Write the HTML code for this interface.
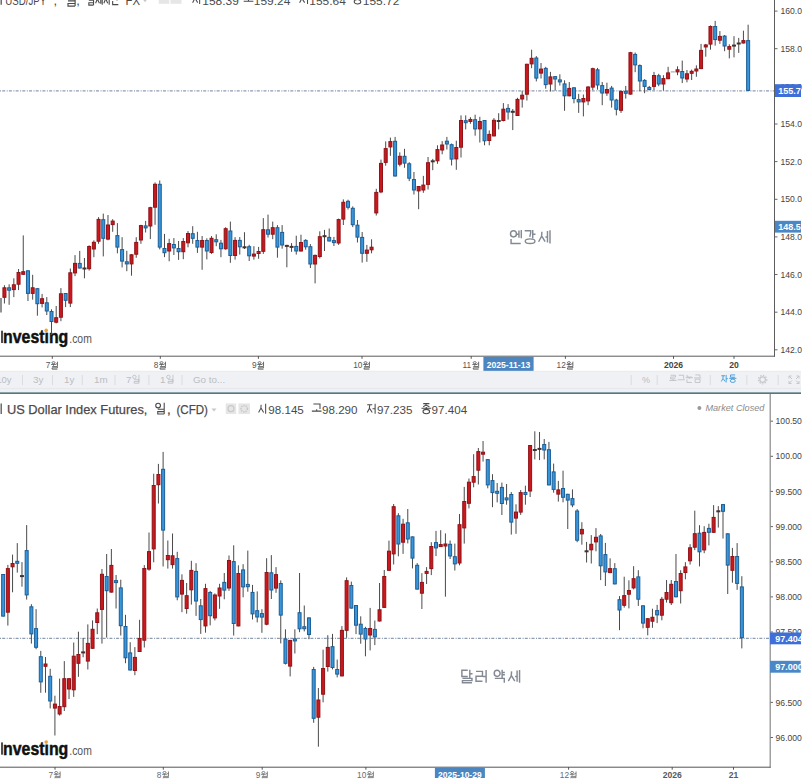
<!DOCTYPE html>
<html><head><meta charset="utf-8"><style>
html,body{margin:0;padding:0;background:#fff;width:808px;height:782px;overflow:hidden;font-family:"Liberation Sans",sans-serif;}
svg{display:block}
</style></head><body>
<svg width="808" height="782" viewBox="0 0 808 782">
<rect width="808" height="782" fill="#fff"/>
<g transform="translate(0,0.2)">
<line x1="1.2" y1="-6" x2="1.2" y2="4.5" stroke="#555" stroke-width="1.3"/>
<text x="5.2" y="4.4" font-family='"Liberation Sans", sans-serif' font-size="12.8" fill="#4a4a4a" font-weight="normal" text-anchor="start"  textLength="41" lengthAdjust="spacingAndGlyphs">USD/JPY</text>
<text x="53.5" y="4.4" font-family='"Liberation Sans", sans-serif' font-size="12.8" fill="#4a4a4a" font-weight="normal" text-anchor="start" >,</text>
<path d="M75.12,-6.6 L75.12,5.9 M68,0.65 L75.12,0.65 L75.12,3.28 L68,3.28 L68,5.9 L75.12,5.9 M65.75,-3.41 a2.63,2.56 0 1,0 5.25,0 a2.63,2.56 0 1,0 -5.25,0" fill="none" stroke="#4a4a4a" stroke-width="1.15" stroke-linecap="butt" stroke-linejoin="miter"/>
<text x="76.2" y="4.4" font-family='"Liberation Sans", sans-serif' font-size="12.8" fill="#4a4a4a" font-weight="normal" text-anchor="start" >,</text>
<path d="M93.54,-6.6 L93.54,4.9 M88.82,0.07 L93.54,0.07 L93.54,2.49 L88.82,2.49 L88.82,4.9 L93.54,4.9 M87.33,-3.67 a1.74,2.36 0 1,0 3.48,0 a1.74,2.36 0 1,0 -3.48,0 M95.61,-4.99 L99.42,-4.99 M97.51,-4.99 L97.21,-0.96 L95.61,3.06 M97.51,-0.96 L99.42,3.06 M100.77,-5.61 L100.77,3.59 M99.58,-0.85 L100.77,-0.85 M102.23,-6.14 L102.23,4.44 M105.79,-4.99 L105.6,-1.37 L103.89,3.06 M105.79,-1.37 L107.7,3.06 M109.19,-6.14 L109.19,4.44 M112.33,-5.91 L115.81,-5.91 L115.81,-4.14 L115.29,-0.85 M117.01,-6.37 L117.01,0.3 M117.01,-3.03 L118.63,-3.03 M112.66,0.76 L112.66,4.44 L118.3,4.44" fill="none" stroke="#4a4a4a" stroke-width="1.1" stroke-linecap="butt" stroke-linejoin="miter"/>
<text x="125.5" y="4.4" font-family='"Liberation Sans", sans-serif' font-size="12.8" fill="#4a4a4a" font-weight="normal" text-anchor="start"  textLength="14.5" lengthAdjust="spacingAndGlyphs">FX</text>
<path d="M142.5 -1 l5 0 l-2.5 3 z" fill="#c8c8c8"/>
<rect x="158.8" y="-7" width="10.5" height="10.6" fill="#e6e6e6"/>
<rect x="170.5" y="-7" width="11" height="10.6" fill="#e6e6e6"/>
<path d="M195.13,-5.26 L194.88,-1.79 L192.6,2.44 M195.13,-1.79 L197.66,2.44 M199.64,-6.36 L199.64,3.76" fill="none" stroke="#4a4a4a" stroke-width="1.05" stroke-linecap="butt" stroke-linejoin="miter"/>
<text x="202.3" y="4.4" font-family='"Liberation Sans", sans-serif' font-size="11.6" fill="#4a4a4a" font-weight="normal" text-anchor="start"  textLength="36.5" lengthAdjust="spacingAndGlyphs">158.39</text>
<path d="M245.2,-5.92 L251.8,-5.92 L251.8,-1.08 M248.5,-0.86 L248.5,1.12 M243.66,1.12 L253.34,1.12" fill="none" stroke="#4a4a4a" stroke-width="1.05" stroke-linecap="butt" stroke-linejoin="miter"/>
<text x="253.8" y="4.4" font-family='"Liberation Sans", sans-serif' font-size="11.6" fill="#4a4a4a" font-weight="normal" text-anchor="start"  textLength="36.5" lengthAdjust="spacingAndGlyphs">159.24</text>
<path d="M299.6,-5.26 L304.66,-5.26 M302.13,-5.26 L301.73,-1.41 L299.6,2.44 M302.13,-1.41 L304.66,2.44 M307.52,-6.36 L307.52,3.76 M304.88,-1.3 L307.52,-1.3" fill="none" stroke="#4a4a4a" stroke-width="1.05" stroke-linecap="butt" stroke-linejoin="miter"/>
<text x="309.3" y="4.4" font-family='"Liberation Sans", sans-serif' font-size="11.6" fill="#4a4a4a" font-weight="normal" text-anchor="start"  textLength="36.5" lengthAdjust="spacingAndGlyphs">155.64</text>
<path d="M354.42,-6.36 L360.58,-6.36 M357.5,-6.36 L357.01,-4.82 L354.42,-3.28 M357.5,-4.82 L360.58,-3.28 M357.5,-3.06 L357.5,-1.74 M352.66,-1.74 L362.34,-1.74 M354.2,1.56 a3.3,2.2 0 1,0 6.6,0 a3.3,2.2 0 1,0 -6.6,0" fill="none" stroke="#4a4a4a" stroke-width="1.05" stroke-linecap="butt" stroke-linejoin="miter"/>
<text x="362.8" y="4.4" font-family='"Liberation Sans", sans-serif' font-size="11.6" fill="#4a4a4a" font-weight="normal" text-anchor="start"  textLength="36.5" lengthAdjust="spacingAndGlyphs">155.72</text>
</g>
<text x="703" y="-0.6" font-family='"Liberation Sans", sans-serif' font-size="9.6" fill="#aaa" font-weight="normal" text-anchor="start" font-style="italic" textLength="62" lengthAdjust="spacingAndGlyphs">Market Closed</text>
<line x1="0" y1="90.8" x2="774" y2="90.8" stroke="#8e9cb2" stroke-width="1.2" stroke-dasharray="1 1.2 3 1.5"/>
<path d="M518.95,230.5 L518.95,237.66 M517.04,234.2 L518.95,234.2 M521.3,230.08 L521.3,238.32 M511.07,238.89 L511.07,243.43 L520.73,243.43 M510.5,233.78 a2.98,3.12 0 1,0 5.96,0 a2.98,3.12 0 1,0 -5.96,0 M524.7,230.65 L530.67,230.65 L530.67,232.84 L529.77,236.9 M532.73,230.08 L532.73,238.32 M532.73,234.2 L535.5,234.2 M525.27,241.16 a4.83,2.27 0 1,0 9.66,0 a4.83,2.27 0 1,0 -9.66,0 M541.89,231.79 L541.56,236.26 L538.62,241.73 M541.89,236.26 L545.15,241.73 M547.48,231.02 L547.48,242.39 M545.44,236.9 L547.48,236.9 M549.98,230.37 L549.98,243.43" fill="none" stroke="#848a93" stroke-width="1.45" stroke-linecap="butt" stroke-linejoin="miter"/>
<rect x="1.2" y="330.7" width="1.6" height="12.3" fill="#222"/>
<text x="3.0999999999999996" y="343" font-family='"Liberation Sans", sans-serif' font-size="18.5" fill="#111" font-weight="bold" text-anchor="start" stroke="#111" stroke-width="0.5" textLength="65.2" lengthAdjust="spacingAndGlyphs">nvesting</text>
<rect x="44.2" y="328.4" width="5.6" height="3.9" fill="#fff"/>
<circle cx="46.2" cy="330.4" r="1.8" fill="#f0a531"/>
<text x="69.3" y="343" font-family='"Liberation Sans", sans-serif' font-size="12.5" fill="#555" font-weight="normal" text-anchor="start"  textLength="22.5" lengthAdjust="spacingAndGlyphs">.com</text>
<line x1="1.00" y1="298.00" x2="1.00" y2="312.50" stroke="#4a4a4a" stroke-width="1.2"/>
<line x1="4.43" y1="285.20" x2="4.43" y2="303.50" stroke="#4a4a4a" stroke-width="1"/>
<rect x="2.93" y="287.80" width="3" height="9.50" fill="#c9191e" stroke="#8e1216" stroke-width="1"/>
<line x1="9.13" y1="284.30" x2="9.13" y2="304.80" stroke="#4a4a4a" stroke-width="1"/>
<rect x="7.63" y="287.80" width="3" height="2.40" fill="#3796dc" stroke="#1c5d94" stroke-width="1"/>
<line x1="13.84" y1="278.30" x2="13.84" y2="297.10" stroke="#4a4a4a" stroke-width="1"/>
<rect x="12.34" y="284.80" width="3" height="4.80" fill="#c9191e" stroke="#8e1216" stroke-width="1"/>
<line x1="18.55" y1="269.00" x2="18.55" y2="290.10" stroke="#4a4a4a" stroke-width="1"/>
<rect x="17.05" y="272.50" width="3" height="11.70" fill="#c9191e" stroke="#8e1216" stroke-width="1"/>
<line x1="23.25" y1="235.40" x2="23.25" y2="274.80" stroke="#4a4a4a" stroke-width="1"/>
<rect x="21.75" y="271.70" width="3" height="2.60" fill="#c9191e" stroke="#8e1216" stroke-width="1"/>
<line x1="27.96" y1="270.30" x2="27.96" y2="301.00" stroke="#4a4a4a" stroke-width="1"/>
<rect x="26.46" y="270.80" width="3" height="22.60" fill="#3796dc" stroke="#1c5d94" stroke-width="1"/>
<line x1="32.67" y1="274.80" x2="32.67" y2="299.70" stroke="#4a4a4a" stroke-width="1"/>
<rect x="31.17" y="287.80" width="3" height="5.60" fill="#c9191e" stroke="#8e1216" stroke-width="1"/>
<line x1="37.38" y1="288.20" x2="37.38" y2="315.70" stroke="#4a4a4a" stroke-width="1"/>
<rect x="35.88" y="288.70" width="3" height="15.00" fill="#3796dc" stroke="#1c5d94" stroke-width="1"/>
<line x1="42.08" y1="293.90" x2="42.08" y2="307.40" stroke="#4a4a4a" stroke-width="1"/>
<rect x="40.58" y="298.70" width="3" height="4.70" fill="#c9191e" stroke="#8e1216" stroke-width="1"/>
<line x1="46.79" y1="297.10" x2="46.79" y2="315.00" stroke="#4a4a4a" stroke-width="1"/>
<rect x="45.29" y="302.80" width="3" height="8.20" fill="#3796dc" stroke="#1c5d94" stroke-width="1"/>
<line x1="51.50" y1="309.30" x2="51.50" y2="335.00" stroke="#4a4a4a" stroke-width="1"/>
<rect x="50.00" y="311.50" width="3" height="10.00" fill="#3796dc" stroke="#1c5d94" stroke-width="1"/>
<line x1="56.20" y1="306.00" x2="56.20" y2="323.40" stroke="#4a4a4a" stroke-width="1"/>
<rect x="54.70" y="317.70" width="3" height="4.50" fill="#c9191e" stroke="#8e1216" stroke-width="1"/>
<line x1="60.91" y1="288.10" x2="60.91" y2="321.20" stroke="#4a4a4a" stroke-width="1"/>
<rect x="59.41" y="293.80" width="3" height="23.40" fill="#c9191e" stroke="#8e1216" stroke-width="1"/>
<line x1="65.62" y1="293.00" x2="65.62" y2="307.10" stroke="#4a4a4a" stroke-width="1"/>
<rect x="64.12" y="293.50" width="3" height="6.80" fill="#3796dc" stroke="#1c5d94" stroke-width="1"/>
<line x1="70.33" y1="268.50" x2="70.33" y2="307.10" stroke="#4a4a4a" stroke-width="1"/>
<rect x="68.83" y="272.80" width="3" height="30.30" fill="#c9191e" stroke="#8e1216" stroke-width="1"/>
<line x1="75.03" y1="255.10" x2="75.03" y2="276.20" stroke="#4a4a4a" stroke-width="1"/>
<rect x="73.53" y="263.40" width="3" height="9.50" fill="#c9191e" stroke="#8e1216" stroke-width="1"/>
<line x1="79.74" y1="250.90" x2="79.74" y2="268.50" stroke="#4a4a4a" stroke-width="1"/>
<rect x="78.24" y="263.40" width="3" height="4.60" fill="#3796dc" stroke="#1c5d94" stroke-width="1"/>
<line x1="84.45" y1="258.00" x2="84.45" y2="278.30" stroke="#4a4a4a" stroke-width="1"/>
<rect x="82.45" y="267.50" width="4" height="2" fill="#43302f"/>
<line x1="89.15" y1="245.30" x2="89.15" y2="270.60" stroke="#4a4a4a" stroke-width="1"/>
<rect x="87.65" y="246.50" width="3" height="22.20" fill="#c9191e" stroke="#8e1216" stroke-width="1"/>
<line x1="93.86" y1="240.40" x2="93.86" y2="257.20" stroke="#4a4a4a" stroke-width="1"/>
<rect x="92.36" y="242.30" width="3" height="6.70" fill="#c9191e" stroke="#8e1216" stroke-width="1"/>
<line x1="98.57" y1="217.10" x2="98.57" y2="243.80" stroke="#4a4a4a" stroke-width="1"/>
<rect x="97.07" y="219.40" width="3" height="21.80" fill="#c9191e" stroke="#8e1216" stroke-width="1"/>
<line x1="103.27" y1="213.60" x2="103.27" y2="256.40" stroke="#4a4a4a" stroke-width="1"/>
<rect x="101.77" y="219.70" width="3" height="18.60" fill="#3796dc" stroke="#1c5d94" stroke-width="1"/>
<line x1="107.98" y1="215.00" x2="107.98" y2="240.30" stroke="#4a4a4a" stroke-width="1"/>
<rect x="106.48" y="225.00" width="3" height="14.10" fill="#c9191e" stroke="#8e1216" stroke-width="1"/>
<line x1="112.69" y1="219.20" x2="112.69" y2="231.80" stroke="#4a4a4a" stroke-width="1"/>
<rect x="111.19" y="221.10" width="3" height="3.50" fill="#c9191e" stroke="#8e1216" stroke-width="1"/>
<line x1="117.39" y1="223.10" x2="117.39" y2="253.30" stroke="#4a4a4a" stroke-width="1"/>
<rect x="115.89" y="235.60" width="3" height="11.50" fill="#3796dc" stroke="#1c5d94" stroke-width="1"/>
<line x1="122.10" y1="237.20" x2="122.10" y2="267.40" stroke="#4a4a4a" stroke-width="1"/>
<rect x="120.60" y="249.60" width="3" height="11.50" fill="#3796dc" stroke="#1c5d94" stroke-width="1"/>
<line x1="126.81" y1="250.80" x2="126.81" y2="271.20" stroke="#4a4a4a" stroke-width="1"/>
<rect x="125.31" y="261.80" width="3" height="2.10" fill="#3796dc" stroke="#1c5d94" stroke-width="1"/>
<line x1="131.52" y1="254.00" x2="131.52" y2="275.70" stroke="#4a4a4a" stroke-width="1"/>
<rect x="130.02" y="254.80" width="3" height="9.10" fill="#c9191e" stroke="#8e1216" stroke-width="1"/>
<line x1="136.22" y1="237.20" x2="136.22" y2="257.80" stroke="#4a4a4a" stroke-width="1"/>
<rect x="134.72" y="242.40" width="3" height="11.80" fill="#c9191e" stroke="#8e1216" stroke-width="1"/>
<line x1="140.93" y1="224.80" x2="140.93" y2="243.80" stroke="#4a4a4a" stroke-width="1"/>
<rect x="139.43" y="225.60" width="3" height="14.40" fill="#c9191e" stroke="#8e1216" stroke-width="1"/>
<line x1="145.64" y1="220.90" x2="145.64" y2="232.50" stroke="#4a4a4a" stroke-width="1"/>
<rect x="144.14" y="225.90" width="3" height="2.00" fill="#3796dc" stroke="#1c5d94" stroke-width="1"/>
<line x1="150.34" y1="206.80" x2="150.34" y2="239.10" stroke="#4a4a4a" stroke-width="1"/>
<rect x="148.84" y="207.70" width="3" height="18.30" fill="#c9191e" stroke="#8e1216" stroke-width="1"/>
<line x1="155.05" y1="182.40" x2="155.05" y2="224.80" stroke="#4a4a4a" stroke-width="1"/>
<rect x="153.55" y="184.30" width="3" height="22.90" fill="#c9191e" stroke="#8e1216" stroke-width="1"/>
<line x1="159.76" y1="180.50" x2="159.76" y2="249.40" stroke="#4a4a4a" stroke-width="1"/>
<rect x="158.26" y="184.30" width="3" height="62.80" fill="#3796dc" stroke="#1c5d94" stroke-width="1"/>
<line x1="164.47" y1="233.90" x2="164.47" y2="257.10" stroke="#4a4a4a" stroke-width="1"/>
<rect x="162.97" y="248.50" width="3" height="4.20" fill="#3796dc" stroke="#1c5d94" stroke-width="1"/>
<line x1="169.17" y1="238.80" x2="169.17" y2="261.30" stroke="#4a4a4a" stroke-width="1"/>
<rect x="167.67" y="243.60" width="3" height="7.40" fill="#c9191e" stroke="#8e1216" stroke-width="1"/>
<line x1="173.88" y1="238.10" x2="173.88" y2="255.00" stroke="#4a4a4a" stroke-width="1"/>
<rect x="172.38" y="244.50" width="3" height="3.40" fill="#3796dc" stroke="#1c5d94" stroke-width="1"/>
<line x1="178.59" y1="241.00" x2="178.59" y2="259.90" stroke="#4a4a4a" stroke-width="1"/>
<rect x="177.09" y="248.50" width="3" height="3.20" fill="#3796dc" stroke="#1c5d94" stroke-width="1"/>
<line x1="183.29" y1="238.10" x2="183.29" y2="259.20" stroke="#4a4a4a" stroke-width="1"/>
<rect x="181.79" y="241.50" width="3" height="10.20" fill="#c9191e" stroke="#8e1216" stroke-width="1"/>
<line x1="188.00" y1="231.10" x2="188.00" y2="247.30" stroke="#4a4a4a" stroke-width="1"/>
<rect x="186.50" y="233.50" width="3" height="9.30" fill="#c9191e" stroke="#8e1216" stroke-width="1"/>
<line x1="192.71" y1="226.20" x2="192.71" y2="243.80" stroke="#4a4a4a" stroke-width="1"/>
<rect x="191.21" y="233.70" width="3" height="4.60" fill="#3796dc" stroke="#1c5d94" stroke-width="1"/>
<line x1="197.41" y1="231.80" x2="197.41" y2="252.90" stroke="#4a4a4a" stroke-width="1"/>
<rect x="195.91" y="240.50" width="3" height="6.60" fill="#3796dc" stroke="#1c5d94" stroke-width="1"/>
<line x1="202.12" y1="236.00" x2="202.12" y2="269.80" stroke="#4a4a4a" stroke-width="1"/>
<rect x="200.62" y="240.50" width="3" height="6.60" fill="#c9191e" stroke="#8e1216" stroke-width="1"/>
<line x1="206.83" y1="238.30" x2="206.83" y2="259.40" stroke="#4a4a4a" stroke-width="1"/>
<rect x="205.33" y="240.50" width="3" height="10.50" fill="#3796dc" stroke="#1c5d94" stroke-width="1"/>
<line x1="211.53" y1="236.10" x2="211.53" y2="253.90" stroke="#4a4a4a" stroke-width="1"/>
<rect x="210.03" y="238.30" width="3" height="14.20" fill="#c9191e" stroke="#8e1216" stroke-width="1"/>
<line x1="216.24" y1="234.30" x2="216.24" y2="246.20" stroke="#4a4a4a" stroke-width="1"/>
<rect x="214.74" y="239.70" width="3" height="2.10" fill="#3796dc" stroke="#1c5d94" stroke-width="1"/>
<line x1="220.95" y1="239.90" x2="220.95" y2="257.20" stroke="#4a4a4a" stroke-width="1"/>
<rect x="219.45" y="243.20" width="3" height="5.60" fill="#3796dc" stroke="#1c5d94" stroke-width="1"/>
<line x1="225.66" y1="227.20" x2="225.66" y2="249.70" stroke="#4a4a4a" stroke-width="1"/>
<rect x="224.16" y="228.70" width="3" height="20.10" fill="#c9191e" stroke="#8e1216" stroke-width="1"/>
<line x1="230.36" y1="221.60" x2="230.36" y2="262.80" stroke="#4a4a4a" stroke-width="1"/>
<rect x="228.86" y="231.00" width="3" height="24.50" fill="#3796dc" stroke="#1c5d94" stroke-width="1"/>
<line x1="235.07" y1="237.10" x2="235.07" y2="259.60" stroke="#4a4a4a" stroke-width="1"/>
<rect x="233.57" y="240.40" width="3" height="15.10" fill="#c9191e" stroke="#8e1216" stroke-width="1"/>
<line x1="239.78" y1="237.10" x2="239.78" y2="254.60" stroke="#4a4a4a" stroke-width="1"/>
<rect x="238.28" y="240.40" width="3" height="6.40" fill="#3796dc" stroke="#1c5d94" stroke-width="1"/>
<line x1="244.48" y1="232.20" x2="244.48" y2="249.00" stroke="#4a4a4a" stroke-width="1"/>
<rect x="242.48" y="246.30" width="4" height="2" fill="#43302f"/>
<line x1="249.19" y1="244.80" x2="249.19" y2="261.00" stroke="#4a4a4a" stroke-width="1"/>
<rect x="247.69" y="246.70" width="3" height="9.10" fill="#3796dc" stroke="#1c5d94" stroke-width="1"/>
<line x1="253.90" y1="246.20" x2="253.90" y2="259.60" stroke="#4a4a4a" stroke-width="1"/>
<rect x="252.40" y="254.10" width="3" height="2.00" fill="#c9191e" stroke="#8e1216" stroke-width="1"/>
<line x1="258.61" y1="246.90" x2="258.61" y2="258.80" stroke="#4a4a4a" stroke-width="1"/>
<rect x="257.11" y="251.50" width="3" height="2.00" fill="#c9191e" stroke="#8e1216" stroke-width="1"/>
<line x1="263.31" y1="218.10" x2="263.31" y2="253.90" stroke="#4a4a4a" stroke-width="1"/>
<rect x="261.81" y="229.70" width="3" height="21.60" fill="#c9191e" stroke="#8e1216" stroke-width="1"/>
<line x1="268.02" y1="214.60" x2="268.02" y2="237.50" stroke="#4a4a4a" stroke-width="1"/>
<rect x="266.52" y="229.80" width="3" height="4.40" fill="#3796dc" stroke="#1c5d94" stroke-width="1"/>
<line x1="272.73" y1="221.60" x2="272.73" y2="239.20" stroke="#4a4a4a" stroke-width="1"/>
<rect x="271.23" y="227.70" width="3" height="6.50" fill="#c9191e" stroke="#8e1216" stroke-width="1"/>
<line x1="277.43" y1="225.10" x2="277.43" y2="257.70" stroke="#4a4a4a" stroke-width="1"/>
<rect x="275.93" y="227.70" width="3" height="19.40" fill="#3796dc" stroke="#1c5d94" stroke-width="1"/>
<line x1="282.14" y1="225.10" x2="282.14" y2="248.70" stroke="#4a4a4a" stroke-width="1"/>
<rect x="280.64" y="232.40" width="3" height="12.60" fill="#3796dc" stroke="#1c5d94" stroke-width="1"/>
<line x1="286.85" y1="244.80" x2="286.85" y2="267.30" stroke="#4a4a4a" stroke-width="1"/>
<rect x="284.85" y="244.90" width="4" height="2" fill="#43302f"/>
<line x1="291.55" y1="243.10" x2="291.55" y2="251.80" stroke="#4a4a4a" stroke-width="1"/>
<rect x="289.55" y="245.90" width="4" height="2" fill="#43302f"/>
<line x1="296.26" y1="235.70" x2="296.26" y2="254.60" stroke="#4a4a4a" stroke-width="1"/>
<rect x="294.76" y="246.40" width="3" height="4.60" fill="#3796dc" stroke="#1c5d94" stroke-width="1"/>
<line x1="300.97" y1="234.70" x2="300.97" y2="251.50" stroke="#4a4a4a" stroke-width="1"/>
<rect x="299.47" y="242.50" width="3" height="8.50" fill="#c9191e" stroke="#8e1216" stroke-width="1"/>
<line x1="305.68" y1="239.20" x2="305.68" y2="249.70" stroke="#4a4a4a" stroke-width="1"/>
<rect x="304.18" y="240.40" width="3" height="6.40" fill="#3796dc" stroke="#1c5d94" stroke-width="1"/>
<line x1="310.38" y1="244.10" x2="310.38" y2="268.00" stroke="#4a4a4a" stroke-width="1"/>
<rect x="308.88" y="246.70" width="3" height="17.30" fill="#3796dc" stroke="#1c5d94" stroke-width="1"/>
<line x1="315.09" y1="254.60" x2="315.09" y2="283.40" stroke="#4a4a4a" stroke-width="1"/>
<rect x="313.59" y="255.40" width="3" height="8.60" fill="#c9191e" stroke="#8e1216" stroke-width="1"/>
<line x1="319.80" y1="231.30" x2="319.80" y2="258.40" stroke="#4a4a4a" stroke-width="1"/>
<rect x="318.30" y="236.70" width="3" height="19.80" fill="#c9191e" stroke="#8e1216" stroke-width="1"/>
<line x1="324.50" y1="229.90" x2="324.50" y2="251.00" stroke="#4a4a4a" stroke-width="1"/>
<rect x="322.50" y="235.20" width="4" height="2" fill="#43302f"/>
<line x1="329.21" y1="228.50" x2="329.21" y2="241.50" stroke="#4a4a4a" stroke-width="1"/>
<rect x="327.71" y="237.40" width="3" height="3.60" fill="#3796dc" stroke="#1c5d94" stroke-width="1"/>
<line x1="333.92" y1="236.90" x2="333.92" y2="246.00" stroke="#4a4a4a" stroke-width="1"/>
<rect x="332.42" y="240.60" width="3" height="2.00" fill="#3796dc" stroke="#1c5d94" stroke-width="1"/>
<line x1="338.62" y1="218.60" x2="338.62" y2="244.90" stroke="#4a4a4a" stroke-width="1"/>
<rect x="337.12" y="219.60" width="3" height="23.40" fill="#c9191e" stroke="#8e1216" stroke-width="1"/>
<line x1="343.33" y1="199.40" x2="343.33" y2="225.00" stroke="#4a4a4a" stroke-width="1"/>
<rect x="341.83" y="202.30" width="3" height="16.80" fill="#c9191e" stroke="#8e1216" stroke-width="1"/>
<line x1="348.04" y1="199.70" x2="348.04" y2="209.50" stroke="#4a4a4a" stroke-width="1"/>
<rect x="346.54" y="201.30" width="3" height="6.00" fill="#3796dc" stroke="#1c5d94" stroke-width="1"/>
<line x1="352.75" y1="206.40" x2="352.75" y2="227.10" stroke="#4a4a4a" stroke-width="1"/>
<rect x="351.25" y="208.30" width="3" height="16.40" fill="#3796dc" stroke="#1c5d94" stroke-width="1"/>
<line x1="357.45" y1="220.00" x2="357.45" y2="242.50" stroke="#4a4a4a" stroke-width="1"/>
<rect x="355.95" y="225.20" width="3" height="11.90" fill="#3796dc" stroke="#1c5d94" stroke-width="1"/>
<line x1="362.16" y1="232.00" x2="362.16" y2="262.60" stroke="#4a4a4a" stroke-width="1"/>
<rect x="360.66" y="237.40" width="3" height="15.90" fill="#3796dc" stroke="#1c5d94" stroke-width="1"/>
<line x1="366.87" y1="244.90" x2="366.87" y2="261.80" stroke="#4a4a4a" stroke-width="1"/>
<rect x="365.37" y="250.10" width="3" height="3.20" fill="#c9191e" stroke="#8e1216" stroke-width="1"/>
<line x1="371.57" y1="239.30" x2="371.57" y2="253.30" stroke="#4a4a4a" stroke-width="1"/>
<rect x="370.07" y="247.20" width="3" height="2.60" fill="#c9191e" stroke="#8e1216" stroke-width="1"/>
<line x1="376.28" y1="188.80" x2="376.28" y2="215.50" stroke="#4a4a4a" stroke-width="1"/>
<rect x="374.78" y="192.40" width="3" height="20.50" fill="#c9191e" stroke="#8e1216" stroke-width="1"/>
<line x1="380.99" y1="159.60" x2="380.99" y2="193.30" stroke="#4a4a4a" stroke-width="1"/>
<rect x="379.49" y="163.40" width="3" height="28.50" fill="#c9191e" stroke="#8e1216" stroke-width="1"/>
<line x1="385.69" y1="141.40" x2="385.69" y2="165.70" stroke="#4a4a4a" stroke-width="1"/>
<rect x="384.19" y="148.60" width="3" height="13.80" fill="#c9191e" stroke="#8e1216" stroke-width="1"/>
<line x1="390.40" y1="137.60" x2="390.40" y2="155.80" stroke="#4a4a4a" stroke-width="1"/>
<rect x="388.90" y="141.60" width="3" height="5.30" fill="#c9191e" stroke="#8e1216" stroke-width="1"/>
<line x1="395.11" y1="136.90" x2="395.11" y2="176.50" stroke="#4a4a4a" stroke-width="1"/>
<rect x="393.61" y="141.30" width="3" height="34.70" fill="#3796dc" stroke="#1c5d94" stroke-width="1"/>
<line x1="399.81" y1="152.30" x2="399.81" y2="166.40" stroke="#4a4a4a" stroke-width="1"/>
<rect x="398.31" y="156.30" width="3" height="7.90" fill="#c9191e" stroke="#8e1216" stroke-width="1"/>
<line x1="404.52" y1="148.80" x2="404.52" y2="167.80" stroke="#4a4a4a" stroke-width="1"/>
<rect x="403.02" y="156.30" width="3" height="6.80" fill="#3796dc" stroke="#1c5d94" stroke-width="1"/>
<line x1="409.23" y1="162.20" x2="409.23" y2="181.10" stroke="#4a4a4a" stroke-width="1"/>
<rect x="407.73" y="163.80" width="3" height="14.40" fill="#3796dc" stroke="#1c5d94" stroke-width="1"/>
<line x1="413.94" y1="172.00" x2="413.94" y2="194.50" stroke="#4a4a4a" stroke-width="1"/>
<rect x="412.44" y="179.50" width="3" height="10.50" fill="#3796dc" stroke="#1c5d94" stroke-width="1"/>
<line x1="418.64" y1="186.00" x2="418.64" y2="209.20" stroke="#4a4a4a" stroke-width="1"/>
<rect x="417.14" y="186.50" width="3" height="4.40" fill="#c9191e" stroke="#8e1216" stroke-width="1"/>
<line x1="423.35" y1="175.90" x2="423.35" y2="192.80" stroke="#4a4a4a" stroke-width="1"/>
<rect x="421.85" y="185.10" width="3" height="4.90" fill="#c9191e" stroke="#8e1216" stroke-width="1"/>
<line x1="428.06" y1="157.00" x2="428.06" y2="189.50" stroke="#4a4a4a" stroke-width="1"/>
<rect x="426.56" y="162.70" width="3" height="21.70" fill="#c9191e" stroke="#8e1216" stroke-width="1"/>
<line x1="432.76" y1="158.90" x2="432.76" y2="170.20" stroke="#4a4a4a" stroke-width="1"/>
<rect x="430.76" y="160.30" width="4" height="2" fill="#43302f"/>
<line x1="437.47" y1="145.30" x2="437.47" y2="163.80" stroke="#4a4a4a" stroke-width="1"/>
<rect x="435.97" y="149.60" width="3" height="11.20" fill="#c9191e" stroke="#8e1216" stroke-width="1"/>
<line x1="442.18" y1="141.10" x2="442.18" y2="154.30" stroke="#4a4a4a" stroke-width="1"/>
<rect x="440.68" y="145.00" width="3" height="5.00" fill="#c9191e" stroke="#8e1216" stroke-width="1"/>
<line x1="446.88" y1="136.90" x2="446.88" y2="149.50" stroke="#4a4a4a" stroke-width="1"/>
<rect x="445.38" y="141.20" width="3" height="2.80" fill="#3796dc" stroke="#1c5d94" stroke-width="1"/>
<line x1="451.59" y1="143.50" x2="451.59" y2="165.50" stroke="#4a4a4a" stroke-width="1"/>
<rect x="450.09" y="144.70" width="3" height="14.40" fill="#3796dc" stroke="#1c5d94" stroke-width="1"/>
<line x1="456.30" y1="140.70" x2="456.30" y2="169.80" stroke="#4a4a4a" stroke-width="1"/>
<rect x="454.80" y="147.50" width="3" height="11.40" fill="#c9191e" stroke="#8e1216" stroke-width="1"/>
<line x1="461.01" y1="115.40" x2="461.01" y2="157.50" stroke="#4a4a4a" stroke-width="1"/>
<rect x="459.51" y="120.50" width="3" height="26.70" fill="#c9191e" stroke="#8e1216" stroke-width="1"/>
<line x1="465.71" y1="115.40" x2="465.71" y2="129.40" stroke="#4a4a4a" stroke-width="1"/>
<rect x="464.21" y="120.70" width="3" height="2.00" fill="#3796dc" stroke="#1c5d94" stroke-width="1"/>
<line x1="470.42" y1="117.20" x2="470.42" y2="123.80" stroke="#4a4a4a" stroke-width="1"/>
<rect x="468.92" y="119.45" width="3" height="2.00" fill="#c9191e" stroke="#8e1216" stroke-width="1"/>
<line x1="475.13" y1="114.70" x2="475.13" y2="135.70" stroke="#4a4a4a" stroke-width="1"/>
<rect x="473.63" y="119.70" width="3" height="9.20" fill="#3796dc" stroke="#1c5d94" stroke-width="1"/>
<line x1="479.83" y1="116.80" x2="479.83" y2="142.50" stroke="#4a4a4a" stroke-width="1"/>
<rect x="478.33" y="121.50" width="3" height="7.40" fill="#c9191e" stroke="#8e1216" stroke-width="1"/>
<line x1="484.54" y1="120.00" x2="484.54" y2="145.30" stroke="#4a4a4a" stroke-width="1"/>
<rect x="483.04" y="120.50" width="3" height="20.30" fill="#3796dc" stroke="#1c5d94" stroke-width="1"/>
<line x1="489.25" y1="130.40" x2="489.25" y2="145.30" stroke="#4a4a4a" stroke-width="1"/>
<rect x="487.75" y="134.40" width="3" height="6.10" fill="#c9191e" stroke="#8e1216" stroke-width="1"/>
<line x1="493.95" y1="118.10" x2="493.95" y2="136.40" stroke="#4a4a4a" stroke-width="1"/>
<rect x="492.45" y="120.30" width="3" height="15.60" fill="#c9191e" stroke="#8e1216" stroke-width="1"/>
<line x1="498.66" y1="113.20" x2="498.66" y2="129.40" stroke="#4a4a4a" stroke-width="1"/>
<rect x="496.66" y="120.00" width="4" height="2" fill="#43302f"/>
<line x1="503.37" y1="103.10" x2="503.37" y2="121.40" stroke="#4a4a4a" stroke-width="1"/>
<rect x="501.87" y="109.20" width="3" height="11.30" fill="#c9191e" stroke="#8e1216" stroke-width="1"/>
<line x1="508.08" y1="104.10" x2="508.08" y2="119.60" stroke="#4a4a4a" stroke-width="1"/>
<rect x="506.58" y="108.40" width="3" height="3.60" fill="#3796dc" stroke="#1c5d94" stroke-width="1"/>
<line x1="512.78" y1="109.00" x2="512.78" y2="130.10" stroke="#4a4a4a" stroke-width="1"/>
<rect x="510.78" y="110.80" width="4" height="2" fill="#43302f"/>
<line x1="517.49" y1="97.80" x2="517.49" y2="116.00" stroke="#4a4a4a" stroke-width="1"/>
<rect x="515.99" y="99.40" width="3" height="16.10" fill="#c9191e" stroke="#8e1216" stroke-width="1"/>
<line x1="522.20" y1="90.70" x2="522.20" y2="107.60" stroke="#4a4a4a" stroke-width="1"/>
<rect x="520.70" y="95.20" width="3" height="3.80" fill="#c9191e" stroke="#8e1216" stroke-width="1"/>
<line x1="526.90" y1="63.70" x2="526.90" y2="100.50" stroke="#4a4a4a" stroke-width="1"/>
<rect x="525.40" y="64.30" width="3" height="29.90" fill="#c9191e" stroke="#8e1216" stroke-width="1"/>
<line x1="531.61" y1="49.70" x2="531.61" y2="68.20" stroke="#4a4a4a" stroke-width="1"/>
<rect x="530.11" y="58.30" width="3" height="5.60" fill="#c9191e" stroke="#8e1216" stroke-width="1"/>
<line x1="536.32" y1="56.10" x2="536.32" y2="81.40" stroke="#4a4a4a" stroke-width="1"/>
<rect x="534.82" y="58.00" width="3" height="20.10" fill="#3796dc" stroke="#1c5d94" stroke-width="1"/>
<line x1="541.02" y1="63.00" x2="541.02" y2="78.50" stroke="#4a4a4a" stroke-width="1"/>
<rect x="539.52" y="69.10" width="3" height="4.00" fill="#c9191e" stroke="#8e1216" stroke-width="1"/>
<line x1="545.73" y1="66.80" x2="545.73" y2="88.70" stroke="#4a4a4a" stroke-width="1"/>
<rect x="544.23" y="68.40" width="3" height="16.20" fill="#3796dc" stroke="#1c5d94" stroke-width="1"/>
<line x1="550.44" y1="71.90" x2="550.44" y2="91.50" stroke="#4a4a4a" stroke-width="1"/>
<rect x="548.94" y="76.90" width="3" height="7.10" fill="#c9191e" stroke="#8e1216" stroke-width="1"/>
<line x1="555.15" y1="76.10" x2="555.15" y2="90.70" stroke="#4a4a4a" stroke-width="1"/>
<rect x="553.65" y="76.60" width="3" height="2.40" fill="#3796dc" stroke="#1c5d94" stroke-width="1"/>
<line x1="559.85" y1="74.30" x2="559.85" y2="85.50" stroke="#4a4a4a" stroke-width="1"/>
<rect x="558.35" y="79.90" width="3" height="2.00" fill="#3796dc" stroke="#1c5d94" stroke-width="1"/>
<line x1="564.56" y1="80.30" x2="564.56" y2="110.80" stroke="#4a4a4a" stroke-width="1"/>
<rect x="563.06" y="83.90" width="3" height="11.90" fill="#3796dc" stroke="#1c5d94" stroke-width="1"/>
<line x1="569.27" y1="82.00" x2="569.27" y2="96.30" stroke="#4a4a4a" stroke-width="1"/>
<rect x="567.77" y="88.40" width="3" height="7.40" fill="#c9191e" stroke="#8e1216" stroke-width="1"/>
<line x1="573.97" y1="87.30" x2="573.97" y2="103.30" stroke="#4a4a4a" stroke-width="1"/>
<rect x="572.47" y="87.80" width="3" height="10.80" fill="#3796dc" stroke="#1c5d94" stroke-width="1"/>
<line x1="578.68" y1="93.90" x2="578.68" y2="112.90" stroke="#4a4a4a" stroke-width="1"/>
<rect x="577.18" y="99.60" width="3" height="2.30" fill="#3796dc" stroke="#1c5d94" stroke-width="1"/>
<line x1="583.39" y1="94.50" x2="583.39" y2="116.40" stroke="#4a4a4a" stroke-width="1"/>
<rect x="581.89" y="98.50" width="3" height="3.40" fill="#c9191e" stroke="#8e1216" stroke-width="1"/>
<line x1="588.10" y1="86.20" x2="588.10" y2="105.20" stroke="#4a4a4a" stroke-width="1"/>
<rect x="586.60" y="87.00" width="3" height="13.90" fill="#c9191e" stroke="#8e1216" stroke-width="1"/>
<line x1="592.80" y1="67.70" x2="592.80" y2="90.10" stroke="#4a4a4a" stroke-width="1"/>
<rect x="591.30" y="68.70" width="3" height="18.40" fill="#c9191e" stroke="#8e1216" stroke-width="1"/>
<line x1="597.51" y1="67.90" x2="597.51" y2="89.70" stroke="#4a4a4a" stroke-width="1"/>
<rect x="596.01" y="69.80" width="3" height="15.20" fill="#3796dc" stroke="#1c5d94" stroke-width="1"/>
<line x1="602.22" y1="82.00" x2="602.22" y2="105.20" stroke="#4a4a4a" stroke-width="1"/>
<rect x="600.72" y="85.60" width="3" height="7.40" fill="#3796dc" stroke="#1c5d94" stroke-width="1"/>
<line x1="606.92" y1="82.70" x2="606.92" y2="95.80" stroke="#4a4a4a" stroke-width="1"/>
<rect x="605.42" y="89.50" width="3" height="3.50" fill="#c9191e" stroke="#8e1216" stroke-width="1"/>
<line x1="611.63" y1="85.90" x2="611.63" y2="107.60" stroke="#4a4a4a" stroke-width="1"/>
<rect x="610.13" y="88.10" width="3" height="11.90" fill="#3796dc" stroke="#1c5d94" stroke-width="1"/>
<line x1="616.34" y1="98.80" x2="616.34" y2="115.40" stroke="#4a4a4a" stroke-width="1"/>
<rect x="614.84" y="100.10" width="3" height="9.20" fill="#3796dc" stroke="#1c5d94" stroke-width="1"/>
<line x1="621.04" y1="90.40" x2="621.04" y2="112.90" stroke="#4a4a4a" stroke-width="1"/>
<rect x="619.54" y="91.60" width="3" height="18.70" fill="#c9191e" stroke="#8e1216" stroke-width="1"/>
<line x1="625.75" y1="85.90" x2="625.75" y2="98.60" stroke="#4a4a4a" stroke-width="1"/>
<rect x="624.25" y="91.30" width="3" height="2.00" fill="#3796dc" stroke="#1c5d94" stroke-width="1"/>
<line x1="630.46" y1="51.80" x2="630.46" y2="94.60" stroke="#4a4a4a" stroke-width="1"/>
<rect x="628.96" y="52.70" width="3" height="41.40" fill="#c9191e" stroke="#8e1216" stroke-width="1"/>
<line x1="635.16" y1="52.50" x2="635.16" y2="72.20" stroke="#4a4a4a" stroke-width="1"/>
<rect x="633.66" y="54.40" width="3" height="10.50" fill="#3796dc" stroke="#1c5d94" stroke-width="1"/>
<line x1="639.87" y1="64.40" x2="639.87" y2="91.10" stroke="#4a4a4a" stroke-width="1"/>
<rect x="638.37" y="65.60" width="3" height="15.40" fill="#3796dc" stroke="#1c5d94" stroke-width="1"/>
<line x1="644.58" y1="79.20" x2="644.58" y2="93.20" stroke="#4a4a4a" stroke-width="1"/>
<rect x="643.08" y="80.40" width="3" height="6.00" fill="#3796dc" stroke="#1c5d94" stroke-width="1"/>
<line x1="649.29" y1="85.90" x2="649.29" y2="90.40" stroke="#4a4a4a" stroke-width="1"/>
<rect x="647.79" y="87.45" width="3" height="2.00" fill="#3796dc" stroke="#1c5d94" stroke-width="1"/>
<line x1="653.99" y1="71.90" x2="653.99" y2="90.10" stroke="#4a4a4a" stroke-width="1"/>
<rect x="652.49" y="75.50" width="3" height="10.90" fill="#c9191e" stroke="#8e1216" stroke-width="1"/>
<line x1="658.70" y1="73.80" x2="658.70" y2="86.20" stroke="#4a4a4a" stroke-width="1"/>
<rect x="657.20" y="75.70" width="3" height="8.30" fill="#3796dc" stroke="#1c5d94" stroke-width="1"/>
<line x1="663.41" y1="75.20" x2="663.41" y2="90.70" stroke="#4a4a4a" stroke-width="1"/>
<rect x="661.91" y="78.60" width="3" height="5.40" fill="#c9191e" stroke="#8e1216" stroke-width="1"/>
<line x1="668.11" y1="66.80" x2="668.11" y2="79.20" stroke="#4a4a4a" stroke-width="1"/>
<rect x="666.61" y="72.90" width="3" height="5.80" fill="#c9191e" stroke="#8e1216" stroke-width="1"/>
<rect x="670.82" y="71.40" width="4" height="1" fill="#9a9a9a"/>
<line x1="677.53" y1="66.30" x2="677.53" y2="75.20" stroke="#4a4a4a" stroke-width="1"/>
<rect x="676.03" y="69.80" width="3" height="2.10" fill="#c9191e" stroke="#8e1216" stroke-width="1"/>
<line x1="682.24" y1="60.60" x2="682.24" y2="83.10" stroke="#4a4a4a" stroke-width="1"/>
<rect x="680.74" y="71.50" width="3" height="6.50" fill="#3796dc" stroke="#1c5d94" stroke-width="1"/>
<line x1="686.94" y1="70.00" x2="686.94" y2="82.30" stroke="#4a4a4a" stroke-width="1"/>
<rect x="685.44" y="73.80" width="3" height="5.20" fill="#c9191e" stroke="#8e1216" stroke-width="1"/>
<line x1="691.65" y1="69.60" x2="691.65" y2="80.00" stroke="#4a4a4a" stroke-width="1"/>
<rect x="690.15" y="71.30" width="3" height="2.00" fill="#c9191e" stroke="#8e1216" stroke-width="1"/>
<line x1="696.36" y1="65.30" x2="696.36" y2="76.80" stroke="#4a4a4a" stroke-width="1"/>
<rect x="694.86" y="69.00" width="3" height="2.00" fill="#c9191e" stroke="#8e1216" stroke-width="1"/>
<line x1="701.06" y1="43.90" x2="701.06" y2="69.10" stroke="#4a4a4a" stroke-width="1"/>
<rect x="699.56" y="50.40" width="3" height="18.20" fill="#c9191e" stroke="#8e1216" stroke-width="1"/>
<line x1="705.77" y1="43.90" x2="705.77" y2="56.70" stroke="#4a4a4a" stroke-width="1"/>
<rect x="704.27" y="44.95" width="3" height="2.00" fill="#c9191e" stroke="#8e1216" stroke-width="1"/>
<line x1="710.48" y1="25.40" x2="710.48" y2="49.70" stroke="#4a4a4a" stroke-width="1"/>
<rect x="708.98" y="26.50" width="3" height="17.60" fill="#c9191e" stroke="#8e1216" stroke-width="1"/>
<line x1="715.18" y1="20.90" x2="715.18" y2="45.60" stroke="#4a4a4a" stroke-width="1"/>
<rect x="713.68" y="26.50" width="3" height="13.10" fill="#3796dc" stroke="#1c5d94" stroke-width="1"/>
<line x1="719.89" y1="31.10" x2="719.89" y2="43.90" stroke="#4a4a4a" stroke-width="1"/>
<rect x="718.39" y="36.40" width="3" height="3.80" fill="#c9191e" stroke="#8e1216" stroke-width="1"/>
<line x1="724.60" y1="35.00" x2="724.60" y2="51.20" stroke="#4a4a4a" stroke-width="1"/>
<rect x="723.10" y="36.10" width="3" height="9.90" fill="#3796dc" stroke="#1c5d94" stroke-width="1"/>
<line x1="729.30" y1="44.30" x2="729.30" y2="58.40" stroke="#4a4a4a" stroke-width="1"/>
<rect x="727.80" y="46.60" width="3" height="2.60" fill="#c9191e" stroke="#8e1216" stroke-width="1"/>
<line x1="734.01" y1="36.20" x2="734.01" y2="57.40" stroke="#4a4a4a" stroke-width="1"/>
<rect x="732.01" y="44.60" width="4" height="2" fill="#43302f"/>
<line x1="738.72" y1="37.90" x2="738.72" y2="52.90" stroke="#4a4a4a" stroke-width="1"/>
<rect x="736.72" y="42.50" width="4" height="2" fill="#43302f"/>
<line x1="743.43" y1="30.70" x2="743.43" y2="43.50" stroke="#4a4a4a" stroke-width="1"/>
<rect x="741.93" y="40.60" width="3" height="2.40" fill="#c9191e" stroke="#8e1216" stroke-width="1"/>
<line x1="748.13" y1="24.70" x2="748.13" y2="90.90" stroke="#4a4a4a" stroke-width="1"/>
<rect x="746.63" y="40.60" width="3" height="49.80" fill="#3796dc" stroke="#1c5d94" stroke-width="1"/>
<line x1="774.5" y1="0" x2="774.5" y2="356.7" stroke="#5c5c5c" stroke-width="1"/>
<line x1="0" y1="356.2" x2="775" y2="356.2" stroke="#5c5c5c" stroke-width="1"/>
<line x1="775" y1="11.1" x2="777.5" y2="11.1" stroke="#666" stroke-width="1"/>
<text x="780.5" y="14.2" font-family='"Liberation Sans", sans-serif' font-size="8.6" fill="#444" font-weight="normal" text-anchor="start" >160.0</text>
<line x1="775" y1="48.7" x2="777.5" y2="48.7" stroke="#666" stroke-width="1"/>
<text x="780.5" y="51.8" font-family='"Liberation Sans", sans-serif' font-size="8.6" fill="#444" font-weight="normal" text-anchor="start" >158.0</text>
<line x1="775" y1="86.4" x2="777.5" y2="86.4" stroke="#666" stroke-width="1"/>
<text x="780.5" y="89.5" font-family='"Liberation Sans", sans-serif' font-size="8.6" fill="#444" font-weight="normal" text-anchor="start" >156.0</text>
<line x1="775" y1="124.0" x2="777.5" y2="124.0" stroke="#666" stroke-width="1"/>
<text x="780.5" y="127.1" font-family='"Liberation Sans", sans-serif' font-size="8.6" fill="#444" font-weight="normal" text-anchor="start" >154.0</text>
<line x1="775" y1="161.6" x2="777.5" y2="161.6" stroke="#666" stroke-width="1"/>
<text x="780.5" y="164.7" font-family='"Liberation Sans", sans-serif' font-size="8.6" fill="#444" font-weight="normal" text-anchor="start" >152.0</text>
<line x1="775" y1="199.3" x2="777.5" y2="199.3" stroke="#666" stroke-width="1"/>
<text x="780.5" y="202.4" font-family='"Liberation Sans", sans-serif' font-size="8.6" fill="#444" font-weight="normal" text-anchor="start" >150.0</text>
<line x1="775" y1="236.9" x2="777.5" y2="236.9" stroke="#666" stroke-width="1"/>
<text x="780.5" y="240.0" font-family='"Liberation Sans", sans-serif' font-size="8.6" fill="#444" font-weight="normal" text-anchor="start" >148.0</text>
<line x1="775" y1="274.5" x2="777.5" y2="274.5" stroke="#666" stroke-width="1"/>
<text x="780.5" y="277.6" font-family='"Liberation Sans", sans-serif' font-size="8.6" fill="#444" font-weight="normal" text-anchor="start" >146.0</text>
<line x1="775" y1="312.2" x2="777.5" y2="312.2" stroke="#666" stroke-width="1"/>
<text x="780.5" y="315.3" font-family='"Liberation Sans", sans-serif' font-size="8.6" fill="#444" font-weight="normal" text-anchor="start" >144.0</text>
<line x1="775" y1="349.8" x2="777.5" y2="349.8" stroke="#666" stroke-width="1"/>
<text x="780.5" y="352.9" font-family='"Liberation Sans", sans-serif' font-size="8.6" fill="#444" font-weight="normal" text-anchor="start" >142.0</text>
<rect x="775" y="84.2" width="26" height="12.8" fill="#3e6fd9"/>
<text x="778.3" y="94.4" font-family='"Liberation Sans", sans-serif' font-size="9" fill="#fff" font-weight="bold" text-anchor="start" >155.7</text>
<rect x="775" y="220.8" width="26" height="11.8" fill="#4a87c6"/>
<text x="778.3" y="230.3" font-family='"Liberation Sans", sans-serif' font-size="9" fill="#fff" font-weight="bold" text-anchor="start" >148.5</text>
<line x1="52.3" y1="356" x2="52.3" y2="358.8" stroke="#555"/>
<text x="45.8" y="368" font-family='"Liberation Sans", sans-serif' font-size="8.3" fill="#555" font-weight="normal" text-anchor="start" >7</text>
<path d="M51.13,364.52 L55.86,364.52 M53.5,364.52 L53.5,365.78 M57.44,361.68 L57.44,366.26 M55.86,363.89 L57.44,363.89 M52.08,366.57 L57.44,366.57 L57.44,367.87 L52.08,367.87 L52.08,369.17 L57.44,369.17 M52,362.71 a1.5,1.03 0 1,0 3,0 a1.5,1.03 0 1,0 -3,0" fill="none" stroke="#555" stroke-width="0.85" stroke-linecap="butt" stroke-linejoin="miter"/>
<line x1="160.3" y1="356" x2="160.3" y2="358.8" stroke="#555"/>
<text x="153.8" y="368" font-family='"Liberation Sans", sans-serif' font-size="8.3" fill="#555" font-weight="normal" text-anchor="start" >8</text>
<path d="M159.13,364.52 L163.86,364.52 M161.5,364.52 L161.5,365.78 M165.44,361.68 L165.44,366.26 M163.86,363.89 L165.44,363.89 M160.08,366.57 L165.44,366.57 L165.44,367.87 L160.08,367.87 L160.08,369.17 L165.44,369.17 M160,362.71 a1.5,1.03 0 1,0 3,0 a1.5,1.03 0 1,0 -3,0" fill="none" stroke="#555" stroke-width="0.85" stroke-linecap="butt" stroke-linejoin="miter"/>
<line x1="258.4" y1="356" x2="258.4" y2="358.8" stroke="#555"/>
<text x="251.9" y="368" font-family='"Liberation Sans", sans-serif' font-size="8.3" fill="#555" font-weight="normal" text-anchor="start" >9</text>
<path d="M257.23,364.52 L261.96,364.52 M259.6,364.52 L259.6,365.78 M263.54,361.68 L263.54,366.26 M261.96,363.89 L263.54,363.89 M258.18,366.57 L263.54,366.57 L263.54,367.87 L258.18,367.87 L258.18,369.17 L263.54,369.17 M258.1,362.71 a1.5,1.03 0 1,0 3,0 a1.5,1.03 0 1,0 -3,0" fill="none" stroke="#555" stroke-width="0.85" stroke-linecap="butt" stroke-linejoin="miter"/>
<line x1="362" y1="356" x2="362" y2="358.8" stroke="#555"/>
<text x="353.2" y="368" font-family='"Liberation Sans", sans-serif' font-size="8.3" fill="#555" font-weight="normal" text-anchor="start" >10</text>
<path d="M363.14,364.52 L367.87,364.52 M365.5,364.52 L365.5,365.78 M369.45,361.68 L369.45,366.26 M367.87,363.89 L369.45,363.89 M364.08,366.57 L369.45,366.57 L369.45,367.87 L364.08,367.87 L364.08,369.17 L369.45,369.17 M364.01,362.71 a1.5,1.03 0 1,0 3,0 a1.5,1.03 0 1,0 -3,0" fill="none" stroke="#555" stroke-width="0.85" stroke-linecap="butt" stroke-linejoin="miter"/>
<line x1="471.2" y1="356" x2="471.2" y2="358.8" stroke="#555"/>
<text x="462.4" y="368" font-family='"Liberation Sans", sans-serif' font-size="8.3" fill="#555" font-weight="normal" text-anchor="start" >11</text>
<path d="M472.34,364.52 L477.07,364.52 M474.7,364.52 L474.7,365.78 M478.65,361.68 L478.65,366.26 M477.07,363.89 L478.65,363.89 M473.28,366.57 L478.65,366.57 L478.65,367.87 L473.28,367.87 L473.28,369.17 L478.65,369.17 M473.21,362.71 a1.5,1.03 0 1,0 3,0 a1.5,1.03 0 1,0 -3,0" fill="none" stroke="#555" stroke-width="0.85" stroke-linecap="butt" stroke-linejoin="miter"/>
<line x1="565.4" y1="356" x2="565.4" y2="358.8" stroke="#555"/>
<text x="556.6" y="368" font-family='"Liberation Sans", sans-serif' font-size="8.3" fill="#555" font-weight="normal" text-anchor="start" >12</text>
<path d="M566.54,364.52 L571.27,364.52 M568.9,364.52 L568.9,365.78 M572.85,361.68 L572.85,366.26 M571.27,363.89 L572.85,363.89 M567.48,366.57 L572.85,366.57 L572.85,367.87 L567.48,367.87 L567.48,369.17 L572.85,369.17 M567.41,362.71 a1.5,1.03 0 1,0 3,0 a1.5,1.03 0 1,0 -3,0" fill="none" stroke="#555" stroke-width="0.85" stroke-linecap="butt" stroke-linejoin="miter"/>
<line x1="673.5" y1="356" x2="673.5" y2="358.8" stroke="#555"/>
<text x="673.5" y="368" font-family='"Liberation Sans", sans-serif' font-size="8.6" fill="#444" font-weight="bold" text-anchor="middle" >2026</text>
<line x1="734" y1="356" x2="734" y2="358.8" stroke="#555"/>
<text x="734" y="368" font-family='"Liberation Sans", sans-serif' font-size="8.6" fill="#444" font-weight="bold" text-anchor="middle" >20</text>
<rect x="483.4" y="356.8" width="50.2" height="14.2" fill="#4b86c1"/>
<text x="508.5" y="367.6" font-family='"Liberation Sans", sans-serif' font-size="9.2" fill="#fff" font-weight="bold" text-anchor="middle"  textLength="43.5" lengthAdjust="spacingAndGlyphs">2025-11-13</text>
<rect x="0" y="371" width="801" height="17.5" fill="#f0f1f4"/>
<line x1="0" y1="371.2" x2="801" y2="371.2" stroke="#e3e5e9" stroke-width="0.6"/>
<rect x="0" y="388.3" width="801" height="0.8" fill="#e0e2e7"/>
<rect x="0" y="389" width="801" height="3.4" fill="#eef0f8"/>
<rect x="0" y="392.4" width="801" height="1.5" fill="#44696f"/>
<text x="-3.6" y="383.2" font-family='"Liberation Sans", sans-serif' font-size="9.4" fill="#b9bdc4" font-weight="normal" text-anchor="start" >10y</text>
<text x="33" y="383.2" font-family='"Liberation Sans", sans-serif' font-size="9.8" fill="#b9bdc4" font-weight="normal" text-anchor="start" >3y</text>
<text x="64" y="383.2" font-family='"Liberation Sans", sans-serif' font-size="9.8" fill="#b9bdc4" font-weight="normal" text-anchor="start" >1y</text>
<text x="94" y="383.2" font-family='"Liberation Sans", sans-serif' font-size="9.8" fill="#b9bdc4" font-weight="normal" text-anchor="start" >1m</text>
<text x="126" y="383.2" font-family='"Liberation Sans", sans-serif' font-size="9.8" fill="#b9bdc4" font-weight="normal" text-anchor="start" >7</text>
<path d="M138.94,374.8 L138.94,383.2 M134.15,379.67 L138.94,379.67 L138.94,381.44 L134.15,381.44 L134.15,383.2 L138.94,383.2 M132.64,376.94 a1.76,1.72 0 1,0 3.53,0 a1.76,1.72 0 1,0 -3.53,0" fill="none" stroke="#b9bdc4" stroke-width="0.8" stroke-linecap="butt" stroke-linejoin="miter"/>
<text x="160" y="383.2" font-family='"Liberation Sans", sans-serif' font-size="9.8" fill="#b9bdc4" font-weight="normal" text-anchor="start" >1</text>
<path d="M172.94,374.8 L172.94,383.2 M168.15,379.67 L172.94,379.67 L172.94,381.44 L168.15,381.44 L168.15,383.2 L172.94,383.2 M166.64,376.94 a1.76,1.72 0 1,0 3.53,0 a1.76,1.72 0 1,0 -3.53,0" fill="none" stroke="#b9bdc4" stroke-width="0.8" stroke-linecap="butt" stroke-linejoin="miter"/>
<text x="193" y="383.2" font-family='"Liberation Sans", sans-serif' font-size="9.8" fill="#b9bdc4" font-weight="normal" text-anchor="start" >Go to...</text>
<line x1="22.5" y1="375" x2="22.5" y2="385" stroke="#d4d7dc" stroke-width="0.8"/>
<line x1="52.5" y1="375" x2="52.5" y2="385" stroke="#d4d7dc" stroke-width="0.8"/>
<line x1="82.3" y1="375" x2="82.3" y2="385" stroke="#d4d7dc" stroke-width="0.8"/>
<line x1="115" y1="375" x2="115" y2="385" stroke="#d4d7dc" stroke-width="0.8"/>
<line x1="148.9" y1="375" x2="148.9" y2="385" stroke="#d4d7dc" stroke-width="0.8"/>
<line x1="182" y1="375" x2="182" y2="385" stroke="#d4d7dc" stroke-width="0.8"/>
<line x1="631.2" y1="375" x2="631.2" y2="385" stroke="#d4d7dc" stroke-width="0.8"/>
<line x1="657.2" y1="375" x2="657.2" y2="385" stroke="#d4d7dc" stroke-width="0.8"/>
<line x1="710.3" y1="375" x2="710.3" y2="385" stroke="#d4d7dc" stroke-width="0.8"/>
<line x1="746.8" y1="375" x2="746.8" y2="385" stroke="#d4d7dc" stroke-width="0.8"/>
<line x1="778.2" y1="375" x2="778.2" y2="385" stroke="#d4d7dc" stroke-width="0.8"/>
<text x="642" y="383.2" font-family='"Liberation Sans", sans-serif' font-size="9" fill="#b9bdc4" font-weight="normal" text-anchor="start" >%</text>
<path d="M670.54,375.26 L675.46,375.26 L675.46,377.06 L670.54,377.06 L670.54,378.86 L675.46,378.86 M673,379.03 L673,380.5 M669.39,380.5 L676.61,380.5 M678.74,375.26 L683.66,375.26 L683.66,378.86 M677.59,379.77 L684.81,379.77 M687.1,374.93 L687.1,377.06 L691.7,377.06 M685.79,377.72 L693.01,377.72 M689.4,377.72 L689.4,378.86 M686.94,379.36 L686.94,382.47 L691.86,382.47 M695.3,374.93 L699.9,374.93 L699.9,377.22 M693.99,377.88 L701.21,377.88 M695.14,379.19 L700.06,379.19 L700.06,382.47 L695.14,382.47 L695.14,379.19" fill="none" stroke="#b9bdc4" stroke-width="0.8" stroke-linecap="butt" stroke-linejoin="miter"/>
<path d="M721.32,375.75 L725.09,375.75 M723.21,375.75 L722.9,378.62 L721.32,381.49 M723.21,378.62 L725.09,381.49 M726.17,374.93 L726.17,382.47 M726.17,378.7 L727.88,378.7 M735.1,374.93 L730.5,374.93 L730.5,377.22 L735.1,377.22 M732.8,377.39 L732.8,378.37 M729.19,378.37 L736.41,378.37 M730.34,380.83 a2.46,1.64 0 1,0 4.92,0 a2.46,1.64 0 1,0 -4.92,0" fill="none" stroke="#3d9ad8" stroke-width="0.9" stroke-linecap="butt" stroke-linejoin="miter"/>
<circle cx="762.6" cy="379.6" r="2.8" fill="none" stroke="#c4c7cc" stroke-width="1.2"/>
<circle cx="762.6" cy="379.6" r="4.2" fill="none" stroke="#c4c7cc" stroke-width="1.2" stroke-dasharray="1.4 1.4"/>
<path d="M789 376 l2.5 0 M789 376 l0 2.5 M799 376 l-2.5 0 M799 376 l0 2.5 M789 383.5 l2.5 0 M789 383.5 l0 -2.5 M799 383.5 l-2.5 0 M799 383.5 l0 -2.5 M789 376 l3 3 M799 376 l-3 3 M789 383.5 l3 -3 M799 383.5 l-3 -3" stroke="#c4c7cc" stroke-width="1" fill="none"/>
<line x1="1.2" y1="403.5" x2="1.2" y2="414" stroke="#555" stroke-width="1.3"/>
<text x="6.9" y="413.6" font-family='"Liberation Sans", sans-serif' font-size="13.4" fill="#4a4a4a" font-weight="normal" text-anchor="start" stroke="#4a4a4a" stroke-width="0.25" textLength="140.5" lengthAdjust="spacingAndGlyphs">US Dollar Index Futures,</text>
<path d="M164.2,402.7 L164.2,414 M157.76,409.25 L164.2,409.25 L164.2,411.63 L157.76,411.63 L157.76,414 L164.2,414 M155.73,405.58 a2.37,2.32 0 1,0 4.75,0 a2.37,2.32 0 1,0 -4.75,0" fill="none" stroke="#4a4a4a" stroke-width="1.1" stroke-linecap="butt" stroke-linejoin="miter"/>
<text x="167" y="413.6" font-family='"Liberation Sans", sans-serif' font-size="13.4" fill="#4a4a4a" font-weight="normal" text-anchor="start" stroke="#4a4a4a" stroke-width="0.25">,</text>
<text x="176.5" y="413.6" font-family='"Liberation Sans", sans-serif' font-size="13.4" fill="#4a4a4a" font-weight="normal" text-anchor="start" stroke="#4a4a4a" stroke-width="0.25" textLength="31.4" lengthAdjust="spacingAndGlyphs">(CFD)</text>
<path d="M211.5 408.5 l5 0 l-2.5 3 z" fill="#c8c8c8"/>
<rect x="225.7" y="403.4" width="10.5" height="10.6" fill="#e6e6e6"/>
<circle cx="231" cy="408.7" r="3" fill="none" stroke="#c9c9c9" stroke-width="1.2"/>
<rect x="238.4" y="403.4" width="11.6" height="10.6" fill="#e6e6e6"/>
<circle cx="244.2" cy="408.7" r="3.2" fill="none" stroke="#c9c9c9" stroke-width="1.6" stroke-dasharray="1.3 1"/>
<path d="M261.13,404.74 L260.88,408.2 L258.6,412.44 M261.13,408.2 L263.66,412.44 M265.64,403.64 L265.64,413.76" fill="none" stroke="#4a4a4a" stroke-width="1.05" stroke-linecap="butt" stroke-linejoin="miter"/>
<text x="268.3" y="413.5" font-family='"Liberation Sans", sans-serif' font-size="11.6" fill="#4a4a4a" font-weight="normal" text-anchor="start"  textLength="35.5" lengthAdjust="spacingAndGlyphs">98.145</text>
<path d="M313.4,404.08 L320,404.08 L320,408.92 M316.7,409.14 L316.7,411.12 M311.86,411.12 L321.54,411.12" fill="none" stroke="#4a4a4a" stroke-width="1.05" stroke-linecap="butt" stroke-linejoin="miter"/>
<text x="322.0" y="413.5" font-family='"Liberation Sans", sans-serif' font-size="11.6" fill="#4a4a4a" font-weight="normal" text-anchor="start"  textLength="35.5" lengthAdjust="spacingAndGlyphs">98.290</text>
<path d="M367.2,404.74 L372.26,404.74 M369.73,404.74 L369.33,408.59 L367.2,412.44 M369.73,408.59 L372.26,412.44 M375.12,403.64 L375.12,413.76 M372.48,408.7 L375.12,408.7" fill="none" stroke="#4a4a4a" stroke-width="1.05" stroke-linecap="butt" stroke-linejoin="miter"/>
<text x="376.90000000000003" y="413.5" font-family='"Liberation Sans", sans-serif' font-size="11.6" fill="#4a4a4a" font-weight="normal" text-anchor="start"  textLength="35.5" lengthAdjust="spacingAndGlyphs">97.235</text>
<path d="M423.22,403.64 L429.38,403.64 M426.3,403.64 L425.81,405.18 L423.22,406.72 M426.3,405.18 L429.38,406.72 M426.3,406.94 L426.3,408.26 M421.46,408.26 L431.14,408.26 M423,411.56 a3.3,2.2 0 1,0 6.6,0 a3.3,2.2 0 1,0 -6.6,0" fill="none" stroke="#4a4a4a" stroke-width="1.05" stroke-linecap="butt" stroke-linejoin="miter"/>
<text x="431.6" y="413.5" font-family='"Liberation Sans", sans-serif' font-size="11.6" fill="#4a4a4a" font-weight="normal" text-anchor="start"  textLength="35.5" lengthAdjust="spacingAndGlyphs">97.404</text>
<circle cx="699.4" cy="408" r="2" fill="#999"/>
<text x="705.4" y="411.3" font-family='"Liberation Sans", sans-serif' font-size="9.6" fill="#8a8a8a" font-weight="normal" text-anchor="start" font-style="italic" textLength="59" lengthAdjust="spacingAndGlyphs">Market Closed</text>
<line x1="0" y1="638.3" x2="770" y2="638.3" stroke="#8e9cb2" stroke-width="1.2" stroke-dasharray="1 1.2 3 1.5"/>
<path d="M467.76,670.24 L461.88,670.24 L461.88,676.4 L467.76,676.4 M469.79,669.68 L469.79,677.8 M469.79,673.74 L472.52,673.74 M462.44,678.36 L471.96,678.36 L471.96,680.6 L462.44,680.6 L462.44,682.84 L471.96,682.84 M476.02,671.36 L482.46,671.36 L482.46,676.26 L476.02,676.26 L476.02,681.16 L482.46,681.16 M486.1,669.96 L486.1,682.84 M482.74,676.4 L486.1,676.4 M502.13,669.68 L502.13,677.8 M502.13,672.52 L504.86,672.52 M502.13,674.71 L504.86,674.71 M494.78,678.36 L504.3,678.36 L504.3,682.84 M494.22,673.32 a2.94,3.08 0 1,0 5.88,0 a2.94,3.08 0 1,0 -5.88,0 M511.58,671.36 L511.26,675.77 L508.36,681.16 M511.58,675.77 L514.8,681.16 M517.1,670.6 L517.1,681.81 M515.08,676.4 L517.1,676.4 M519.56,669.96 L519.56,682.84" fill="none" stroke="#848a93" stroke-width="1.45" stroke-linecap="butt" stroke-linejoin="miter"/>
<rect x="1.2" y="742.4" width="1.6" height="12.3" fill="#222"/>
<text x="3.0999999999999996" y="754.7" font-family='"Liberation Sans", sans-serif' font-size="18.5" fill="#111" font-weight="bold" text-anchor="start" stroke="#111" stroke-width="0.5" textLength="65.2" lengthAdjust="spacingAndGlyphs">nvesting</text>
<rect x="44.2" y="740.1" width="5.6" height="3.9" fill="#fff"/>
<circle cx="46.2" cy="742.1" r="1.8" fill="#f0a531"/>
<text x="69.3" y="754.7" font-family='"Liberation Sans", sans-serif' font-size="12.5" fill="#555" font-weight="normal" text-anchor="start"  textLength="22.5" lengthAdjust="spacingAndGlyphs">.com</text>
<line x1="3.15" y1="574.00" x2="3.15" y2="616.60" stroke="#4a4a4a" stroke-width="1"/>
<rect x="1.65" y="574.50" width="3" height="41.60" fill="#3796dc" stroke="#1c5d94" stroke-width="1"/>
<line x1="7.86" y1="564.90" x2="7.86" y2="625.60" stroke="#4a4a4a" stroke-width="1"/>
<rect x="6.36" y="568.60" width="3" height="43.60" fill="#c9191e" stroke="#8e1216" stroke-width="1"/>
<line x1="12.56" y1="554.60" x2="12.56" y2="592.30" stroke="#4a4a4a" stroke-width="1"/>
<rect x="11.06" y="563.50" width="3" height="3.30" fill="#c9191e" stroke="#8e1216" stroke-width="1"/>
<line x1="17.27" y1="543.10" x2="17.27" y2="572.60" stroke="#4a4a4a" stroke-width="1"/>
<rect x="15.77" y="561.30" width="3" height="2.00" fill="#3796dc" stroke="#1c5d94" stroke-width="1"/>
<line x1="21.97" y1="562.10" x2="21.97" y2="586.70" stroke="#4a4a4a" stroke-width="1"/>
<rect x="19.97" y="575.10" width="4" height="2" fill="#43302f"/>
<line x1="26.67" y1="525.10" x2="26.67" y2="599.60" stroke="#4a4a4a" stroke-width="1"/>
<rect x="25.17" y="550.60" width="3" height="44.30" fill="#3796dc" stroke="#1c5d94" stroke-width="1"/>
<line x1="31.38" y1="604.20" x2="31.38" y2="643.60" stroke="#4a4a4a" stroke-width="1"/>
<rect x="29.88" y="606.80" width="3" height="27.10" fill="#3796dc" stroke="#1c5d94" stroke-width="1"/>
<line x1="36.09" y1="609.10" x2="36.09" y2="649.20" stroke="#4a4a4a" stroke-width="1"/>
<rect x="34.59" y="628.60" width="3" height="18.70" fill="#3796dc" stroke="#1c5d94" stroke-width="1"/>
<line x1="40.79" y1="650.90" x2="40.79" y2="692.80" stroke="#4a4a4a" stroke-width="1"/>
<rect x="39.29" y="656.70" width="3" height="25.20" fill="#3796dc" stroke="#1c5d94" stroke-width="1"/>
<line x1="45.49" y1="657.00" x2="45.49" y2="692.70" stroke="#4a4a4a" stroke-width="1"/>
<rect x="43.99" y="664.00" width="3" height="2.30" fill="#c9191e" stroke="#8e1216" stroke-width="1"/>
<line x1="50.20" y1="668.80" x2="50.20" y2="708.40" stroke="#4a4a4a" stroke-width="1"/>
<rect x="48.70" y="676.30" width="3" height="24.70" fill="#3796dc" stroke="#1c5d94" stroke-width="1"/>
<line x1="54.91" y1="695.70" x2="54.91" y2="735.50" stroke="#4a4a4a" stroke-width="1"/>
<rect x="53.41" y="704.10" width="3" height="4.00" fill="#c9191e" stroke="#8e1216" stroke-width="1"/>
<line x1="59.61" y1="678.60" x2="59.61" y2="715.60" stroke="#4a4a4a" stroke-width="1"/>
<rect x="58.11" y="706.50" width="3" height="7.50" fill="#c9191e" stroke="#8e1216" stroke-width="1"/>
<line x1="64.31" y1="661.10" x2="64.31" y2="711.00" stroke="#4a4a4a" stroke-width="1"/>
<rect x="62.81" y="678.70" width="3" height="28.00" fill="#c9191e" stroke="#8e1216" stroke-width="1"/>
<line x1="69.02" y1="678.20" x2="69.02" y2="699.00" stroke="#4a4a4a" stroke-width="1"/>
<rect x="67.52" y="678.70" width="3" height="10.30" fill="#c9191e" stroke="#8e1216" stroke-width="1"/>
<line x1="73.73" y1="642.50" x2="73.73" y2="696.90" stroke="#4a4a4a" stroke-width="1"/>
<rect x="72.23" y="656.20" width="3" height="33.60" fill="#c9191e" stroke="#8e1216" stroke-width="1"/>
<line x1="78.43" y1="631.70" x2="78.43" y2="676.80" stroke="#4a4a4a" stroke-width="1"/>
<rect x="76.93" y="654.50" width="3" height="8.80" fill="#c9191e" stroke="#8e1216" stroke-width="1"/>
<line x1="83.14" y1="638.00" x2="83.14" y2="657.30" stroke="#4a4a4a" stroke-width="1"/>
<rect x="81.14" y="651.40" width="4" height="2" fill="#43302f"/>
<line x1="87.84" y1="624.40" x2="87.84" y2="669.50" stroke="#4a4a4a" stroke-width="1"/>
<rect x="86.34" y="643.40" width="3" height="17.70" fill="#c9191e" stroke="#8e1216" stroke-width="1"/>
<line x1="92.55" y1="620.40" x2="92.55" y2="648.80" stroke="#4a4a4a" stroke-width="1"/>
<rect x="91.05" y="629.30" width="3" height="19.00" fill="#c9191e" stroke="#8e1216" stroke-width="1"/>
<line x1="97.25" y1="608.50" x2="97.25" y2="634.20" stroke="#4a4a4a" stroke-width="1"/>
<rect x="95.75" y="612.80" width="3" height="9.70" fill="#c9191e" stroke="#8e1216" stroke-width="1"/>
<line x1="101.96" y1="569.00" x2="101.96" y2="643.60" stroke="#4a4a4a" stroke-width="1"/>
<rect x="100.46" y="574.30" width="3" height="35.10" fill="#c9191e" stroke="#8e1216" stroke-width="1"/>
<line x1="106.66" y1="554.00" x2="106.66" y2="637.60" stroke="#4a4a4a" stroke-width="1"/>
<rect x="105.16" y="576.50" width="3" height="14.20" fill="#3796dc" stroke="#1c5d94" stroke-width="1"/>
<line x1="111.37" y1="549.00" x2="111.37" y2="592.60" stroke="#4a4a4a" stroke-width="1"/>
<rect x="109.87" y="565.40" width="3" height="26.70" fill="#c9191e" stroke="#8e1216" stroke-width="1"/>
<line x1="116.07" y1="575.00" x2="116.07" y2="608.50" stroke="#4a4a4a" stroke-width="1"/>
<rect x="114.57" y="580.60" width="3" height="2.00" fill="#3796dc" stroke="#1c5d94" stroke-width="1"/>
<line x1="120.78" y1="579.70" x2="120.78" y2="635.50" stroke="#4a4a4a" stroke-width="1"/>
<rect x="119.28" y="587.90" width="3" height="37.80" fill="#3796dc" stroke="#1c5d94" stroke-width="1"/>
<line x1="125.48" y1="614.80" x2="125.48" y2="663.20" stroke="#4a4a4a" stroke-width="1"/>
<rect x="123.98" y="626.50" width="3" height="31.30" fill="#3796dc" stroke="#1c5d94" stroke-width="1"/>
<line x1="130.19" y1="642.20" x2="130.19" y2="670.50" stroke="#4a4a4a" stroke-width="1"/>
<rect x="128.69" y="652.90" width="3" height="17.10" fill="#3796dc" stroke="#1c5d94" stroke-width="1"/>
<line x1="134.89" y1="647.10" x2="134.89" y2="675.20" stroke="#4a4a4a" stroke-width="1"/>
<rect x="133.39" y="657.40" width="3" height="13.10" fill="#c9191e" stroke="#8e1216" stroke-width="1"/>
<line x1="139.59" y1="619.80" x2="139.59" y2="652.00" stroke="#4a4a4a" stroke-width="1"/>
<rect x="138.09" y="638.50" width="3" height="13.00" fill="#c9191e" stroke="#8e1216" stroke-width="1"/>
<line x1="144.30" y1="565.10" x2="144.30" y2="647.50" stroke="#4a4a4a" stroke-width="1"/>
<rect x="142.80" y="568.50" width="3" height="71.70" fill="#c9191e" stroke="#8e1216" stroke-width="1"/>
<line x1="149.00" y1="532.50" x2="149.00" y2="570.70" stroke="#4a4a4a" stroke-width="1"/>
<rect x="147.50" y="551.60" width="3" height="17.50" fill="#c9191e" stroke="#8e1216" stroke-width="1"/>
<line x1="153.71" y1="473.70" x2="153.71" y2="562.30" stroke="#4a4a4a" stroke-width="1"/>
<rect x="152.21" y="485.50" width="3" height="63.40" fill="#c9191e" stroke="#8e1216" stroke-width="1"/>
<line x1="158.42" y1="463.90" x2="158.42" y2="503.50" stroke="#4a4a4a" stroke-width="1"/>
<rect x="156.92" y="474.50" width="3" height="10.20" fill="#c9191e" stroke="#8e1216" stroke-width="1"/>
<line x1="163.12" y1="451.90" x2="163.12" y2="566.50" stroke="#4a4a4a" stroke-width="1"/>
<rect x="161.62" y="469.30" width="3" height="60.80" fill="#3796dc" stroke="#1c5d94" stroke-width="1"/>
<line x1="167.83" y1="540.50" x2="167.83" y2="568.60" stroke="#4a4a4a" stroke-width="1"/>
<rect x="166.33" y="555.50" width="3" height="4.20" fill="#c9191e" stroke="#8e1216" stroke-width="1"/>
<line x1="172.53" y1="533.50" x2="172.53" y2="568.60" stroke="#4a4a4a" stroke-width="1"/>
<rect x="171.03" y="555.80" width="3" height="8.80" fill="#c9191e" stroke="#8e1216" stroke-width="1"/>
<line x1="177.24" y1="551.80" x2="177.24" y2="600.30" stroke="#4a4a4a" stroke-width="1"/>
<rect x="175.74" y="558.60" width="3" height="38.30" fill="#3796dc" stroke="#1c5d94" stroke-width="1"/>
<line x1="181.94" y1="574.30" x2="181.94" y2="612.20" stroke="#4a4a4a" stroke-width="1"/>
<rect x="180.44" y="580.40" width="3" height="13.70" fill="#c9191e" stroke="#8e1216" stroke-width="1"/>
<line x1="186.65" y1="583.00" x2="186.65" y2="613.70" stroke="#4a4a4a" stroke-width="1"/>
<rect x="185.15" y="595.70" width="3" height="12.80" fill="#c9191e" stroke="#8e1216" stroke-width="1"/>
<line x1="191.35" y1="560.80" x2="191.35" y2="604.60" stroke="#4a4a4a" stroke-width="1"/>
<rect x="189.85" y="570.40" width="3" height="19.40" fill="#c9191e" stroke="#8e1216" stroke-width="1"/>
<line x1="196.06" y1="563.20" x2="196.06" y2="615.90" stroke="#4a4a4a" stroke-width="1"/>
<rect x="194.56" y="571.40" width="3" height="29.60" fill="#3796dc" stroke="#1c5d94" stroke-width="1"/>
<line x1="200.76" y1="599.00" x2="200.76" y2="633.90" stroke="#4a4a4a" stroke-width="1"/>
<rect x="199.26" y="605.80" width="3" height="13.80" fill="#3796dc" stroke="#1c5d94" stroke-width="1"/>
<line x1="205.47" y1="583.80" x2="205.47" y2="632.70" stroke="#4a4a4a" stroke-width="1"/>
<rect x="203.97" y="588.60" width="3" height="37.30" fill="#c9191e" stroke="#8e1216" stroke-width="1"/>
<line x1="210.17" y1="590.90" x2="210.17" y2="625.40" stroke="#4a4a4a" stroke-width="1"/>
<rect x="208.67" y="592.50" width="3" height="23.20" fill="#3796dc" stroke="#1c5d94" stroke-width="1"/>
<line x1="214.88" y1="593.40" x2="214.88" y2="620.40" stroke="#4a4a4a" stroke-width="1"/>
<rect x="213.38" y="595.00" width="3" height="22.90" fill="#c9191e" stroke="#8e1216" stroke-width="1"/>
<line x1="219.58" y1="583.80" x2="219.58" y2="608.80" stroke="#4a4a4a" stroke-width="1"/>
<rect x="218.08" y="588.00" width="3" height="8.00" fill="#c9191e" stroke="#8e1216" stroke-width="1"/>
<line x1="224.28" y1="573.00" x2="224.28" y2="599.30" stroke="#4a4a4a" stroke-width="1"/>
<rect x="222.78" y="582.40" width="3" height="7.70" fill="#3796dc" stroke="#1c5d94" stroke-width="1"/>
<line x1="228.99" y1="555.50" x2="228.99" y2="590.90" stroke="#4a4a4a" stroke-width="1"/>
<rect x="227.49" y="560.50" width="3" height="27.50" fill="#c9191e" stroke="#8e1216" stroke-width="1"/>
<line x1="233.70" y1="545.30" x2="233.70" y2="635.50" stroke="#4a4a4a" stroke-width="1"/>
<rect x="232.20" y="561.60" width="3" height="61.90" fill="#3796dc" stroke="#1c5d94" stroke-width="1"/>
<line x1="238.40" y1="565.30" x2="238.40" y2="626.40" stroke="#4a4a4a" stroke-width="1"/>
<rect x="236.90" y="573.50" width="3" height="52.40" fill="#c9191e" stroke="#8e1216" stroke-width="1"/>
<line x1="243.11" y1="564.20" x2="243.11" y2="597.30" stroke="#4a4a4a" stroke-width="1"/>
<rect x="241.61" y="569.90" width="3" height="17.00" fill="#3796dc" stroke="#1c5d94" stroke-width="1"/>
<line x1="247.81" y1="550.60" x2="247.81" y2="591.70" stroke="#4a4a4a" stroke-width="1"/>
<rect x="246.31" y="584.40" width="3" height="2.30" fill="#3796dc" stroke="#1c5d94" stroke-width="1"/>
<line x1="252.52" y1="584.90" x2="252.52" y2="619.50" stroke="#4a4a4a" stroke-width="1"/>
<rect x="251.02" y="592.40" width="3" height="21.50" fill="#3796dc" stroke="#1c5d94" stroke-width="1"/>
<line x1="257.22" y1="591.40" x2="257.22" y2="622.40" stroke="#4a4a4a" stroke-width="1"/>
<rect x="255.72" y="610.70" width="3" height="6.30" fill="#3796dc" stroke="#1c5d94" stroke-width="1"/>
<line x1="261.92" y1="609.20" x2="261.92" y2="632.80" stroke="#4a4a4a" stroke-width="1"/>
<rect x="260.42" y="613.60" width="3" height="3.50" fill="#3796dc" stroke="#1c5d94" stroke-width="1"/>
<line x1="266.63" y1="558.20" x2="266.63" y2="625.30" stroke="#4a4a4a" stroke-width="1"/>
<rect x="265.13" y="572.50" width="3" height="51.70" fill="#c9191e" stroke="#8e1216" stroke-width="1"/>
<line x1="271.33" y1="555.10" x2="271.33" y2="599.00" stroke="#4a4a4a" stroke-width="1"/>
<rect x="269.83" y="572.80" width="3" height="17.20" fill="#3796dc" stroke="#1c5d94" stroke-width="1"/>
<line x1="276.04" y1="567.10" x2="276.04" y2="592.80" stroke="#4a4a4a" stroke-width="1"/>
<rect x="274.54" y="574.60" width="3" height="13.50" fill="#c9191e" stroke="#8e1216" stroke-width="1"/>
<line x1="280.75" y1="580.40" x2="280.75" y2="643.40" stroke="#4a4a4a" stroke-width="1"/>
<rect x="279.25" y="583.50" width="3" height="31.60" fill="#3796dc" stroke="#1c5d94" stroke-width="1"/>
<line x1="285.45" y1="629.30" x2="285.45" y2="664.50" stroke="#4a4a4a" stroke-width="1"/>
<rect x="283.95" y="639.00" width="3" height="24.30" fill="#3796dc" stroke="#1c5d94" stroke-width="1"/>
<line x1="290.15" y1="639.90" x2="290.15" y2="676.40" stroke="#4a4a4a" stroke-width="1"/>
<rect x="288.65" y="640.40" width="3" height="25.70" fill="#c9191e" stroke="#8e1216" stroke-width="1"/>
<line x1="294.86" y1="629.30" x2="294.86" y2="653.50" stroke="#4a4a4a" stroke-width="1"/>
<rect x="293.36" y="638.90" width="3" height="2.00" fill="#3796dc" stroke="#1c5d94" stroke-width="1"/>
<line x1="299.56" y1="573.00" x2="299.56" y2="632.20" stroke="#4a4a4a" stroke-width="1"/>
<rect x="298.06" y="612.70" width="3" height="16.10" fill="#3796dc" stroke="#1c5d94" stroke-width="1"/>
<line x1="304.27" y1="605.50" x2="304.27" y2="631.40" stroke="#4a4a4a" stroke-width="1"/>
<rect x="302.77" y="626.75" width="3" height="2.00" fill="#3796dc" stroke="#1c5d94" stroke-width="1"/>
<line x1="308.97" y1="617.40" x2="308.97" y2="639.20" stroke="#4a4a4a" stroke-width="1"/>
<rect x="307.47" y="617.90" width="3" height="16.60" fill="#3796dc" stroke="#1c5d94" stroke-width="1"/>
<line x1="313.68" y1="666.90" x2="313.68" y2="722.80" stroke="#4a4a4a" stroke-width="1"/>
<rect x="312.18" y="669.50" width="3" height="48.80" fill="#3796dc" stroke="#1c5d94" stroke-width="1"/>
<line x1="318.38" y1="688.00" x2="318.38" y2="746.70" stroke="#4a4a4a" stroke-width="1"/>
<rect x="316.88" y="700.00" width="3" height="17.20" fill="#c9191e" stroke="#8e1216" stroke-width="1"/>
<line x1="323.09" y1="649.70" x2="323.09" y2="702.30" stroke="#4a4a4a" stroke-width="1"/>
<rect x="321.59" y="668.50" width="3" height="25.70" fill="#c9191e" stroke="#8e1216" stroke-width="1"/>
<line x1="327.79" y1="635.20" x2="327.79" y2="671.60" stroke="#4a4a4a" stroke-width="1"/>
<rect x="326.29" y="647.40" width="3" height="19.10" fill="#c9191e" stroke="#8e1216" stroke-width="1"/>
<line x1="332.50" y1="633.90" x2="332.50" y2="669.40" stroke="#4a4a4a" stroke-width="1"/>
<rect x="331.00" y="646.70" width="3" height="20.80" fill="#3796dc" stroke="#1c5d94" stroke-width="1"/>
<line x1="337.20" y1="659.60" x2="337.20" y2="677.40" stroke="#4a4a4a" stroke-width="1"/>
<rect x="335.70" y="669.50" width="3" height="4.60" fill="#3796dc" stroke="#1c5d94" stroke-width="1"/>
<line x1="341.91" y1="626.10" x2="341.91" y2="676.40" stroke="#4a4a4a" stroke-width="1"/>
<rect x="340.41" y="630.40" width="3" height="45.50" fill="#c9191e" stroke="#8e1216" stroke-width="1"/>
<line x1="346.62" y1="577.40" x2="346.62" y2="637.80" stroke="#4a4a4a" stroke-width="1"/>
<rect x="345.12" y="580.70" width="3" height="49.60" fill="#c9191e" stroke="#8e1216" stroke-width="1"/>
<line x1="351.32" y1="581.60" x2="351.32" y2="608.60" stroke="#4a4a4a" stroke-width="1"/>
<rect x="349.82" y="585.50" width="3" height="22.60" fill="#3796dc" stroke="#1c5d94" stroke-width="1"/>
<line x1="356.02" y1="605.00" x2="356.02" y2="634.10" stroke="#4a4a4a" stroke-width="1"/>
<rect x="354.52" y="605.50" width="3" height="19.70" fill="#3796dc" stroke="#1c5d94" stroke-width="1"/>
<line x1="360.73" y1="616.30" x2="360.73" y2="643.70" stroke="#4a4a4a" stroke-width="1"/>
<rect x="359.23" y="624.20" width="3" height="9.90" fill="#3796dc" stroke="#1c5d94" stroke-width="1"/>
<line x1="365.44" y1="626.80" x2="365.44" y2="656.30" stroke="#4a4a4a" stroke-width="1"/>
<rect x="363.94" y="628.50" width="3" height="10.50" fill="#3796dc" stroke="#1c5d94" stroke-width="1"/>
<line x1="370.14" y1="607.90" x2="370.14" y2="650.40" stroke="#4a4a4a" stroke-width="1"/>
<rect x="368.64" y="628.50" width="3" height="6.50" fill="#c9191e" stroke="#8e1216" stroke-width="1"/>
<line x1="374.84" y1="620.50" x2="374.84" y2="645.10" stroke="#4a4a4a" stroke-width="1"/>
<rect x="373.34" y="629.40" width="3" height="7.50" fill="#3796dc" stroke="#1c5d94" stroke-width="1"/>
<line x1="379.55" y1="583.00" x2="379.55" y2="621.50" stroke="#4a4a4a" stroke-width="1"/>
<rect x="378.05" y="609.80" width="3" height="11.20" fill="#c9191e" stroke="#8e1216" stroke-width="1"/>
<line x1="384.25" y1="570.00" x2="384.25" y2="607.90" stroke="#4a4a4a" stroke-width="1"/>
<rect x="382.75" y="576.50" width="3" height="30.90" fill="#c9191e" stroke="#8e1216" stroke-width="1"/>
<line x1="388.96" y1="540.60" x2="388.96" y2="570.80" stroke="#4a4a4a" stroke-width="1"/>
<rect x="387.46" y="551.20" width="3" height="19.10" fill="#c9191e" stroke="#8e1216" stroke-width="1"/>
<line x1="393.66" y1="504.00" x2="393.66" y2="564.50" stroke="#4a4a4a" stroke-width="1"/>
<rect x="392.16" y="506.70" width="3" height="47.20" fill="#c9191e" stroke="#8e1216" stroke-width="1"/>
<line x1="398.37" y1="513.20" x2="398.37" y2="556.30" stroke="#4a4a4a" stroke-width="1"/>
<rect x="396.87" y="515.80" width="3" height="28.20" fill="#3796dc" stroke="#1c5d94" stroke-width="1"/>
<line x1="403.07" y1="518.80" x2="403.07" y2="553.90" stroke="#4a4a4a" stroke-width="1"/>
<rect x="401.57" y="524.20" width="3" height="18.00" fill="#c9191e" stroke="#8e1216" stroke-width="1"/>
<line x1="407.78" y1="509.00" x2="407.78" y2="543.40" stroke="#4a4a4a" stroke-width="1"/>
<rect x="406.28" y="522.80" width="3" height="16.20" fill="#3796dc" stroke="#1c5d94" stroke-width="1"/>
<line x1="412.48" y1="536.40" x2="412.48" y2="568.40" stroke="#4a4a4a" stroke-width="1"/>
<rect x="410.98" y="536.90" width="3" height="21.20" fill="#3796dc" stroke="#1c5d94" stroke-width="1"/>
<line x1="417.19" y1="563.10" x2="417.19" y2="589.60" stroke="#4a4a4a" stroke-width="1"/>
<rect x="415.69" y="565.30" width="3" height="23.80" fill="#3796dc" stroke="#1c5d94" stroke-width="1"/>
<line x1="421.89" y1="573.20" x2="421.89" y2="609.00" stroke="#4a4a4a" stroke-width="1"/>
<rect x="420.39" y="582.40" width="3" height="10.80" fill="#c9191e" stroke="#8e1216" stroke-width="1"/>
<line x1="426.60" y1="567.10" x2="426.60" y2="584.00" stroke="#4a4a4a" stroke-width="1"/>
<rect x="425.10" y="571.40" width="3" height="2.00" fill="#c9191e" stroke="#8e1216" stroke-width="1"/>
<line x1="431.31" y1="542.20" x2="431.31" y2="575.10" stroke="#4a4a4a" stroke-width="1"/>
<rect x="429.81" y="546.50" width="3" height="22.10" fill="#c9191e" stroke="#8e1216" stroke-width="1"/>
<line x1="436.01" y1="530.90" x2="436.01" y2="556.10" stroke="#4a4a4a" stroke-width="1"/>
<rect x="434.51" y="542.60" width="3" height="5.30" fill="#3796dc" stroke="#1c5d94" stroke-width="1"/>
<line x1="440.71" y1="530.20" x2="440.71" y2="546.40" stroke="#4a4a4a" stroke-width="1"/>
<rect x="439.21" y="544.55" width="3" height="2.00" fill="#c9191e" stroke="#8e1216" stroke-width="1"/>
<line x1="445.42" y1="533.40" x2="445.42" y2="596.70" stroke="#4a4a4a" stroke-width="1"/>
<rect x="443.92" y="544.00" width="3" height="2.00" fill="#c9191e" stroke="#8e1216" stroke-width="1"/>
<line x1="450.12" y1="540.50" x2="450.12" y2="559.00" stroke="#4a4a4a" stroke-width="1"/>
<rect x="448.62" y="544.30" width="3" height="11.70" fill="#3796dc" stroke="#1c5d94" stroke-width="1"/>
<line x1="454.83" y1="543.60" x2="454.83" y2="570.50" stroke="#4a4a4a" stroke-width="1"/>
<rect x="453.33" y="556.70" width="3" height="7.20" fill="#3796dc" stroke="#1c5d94" stroke-width="1"/>
<line x1="459.53" y1="514.00" x2="459.53" y2="565.30" stroke="#4a4a4a" stroke-width="1"/>
<rect x="458.03" y="524.70" width="3" height="38.30" fill="#c9191e" stroke="#8e1216" stroke-width="1"/>
<line x1="464.24" y1="486.90" x2="464.24" y2="543.60" stroke="#4a4a4a" stroke-width="1"/>
<rect x="462.74" y="501.50" width="3" height="26.40" fill="#c9191e" stroke="#8e1216" stroke-width="1"/>
<line x1="468.94" y1="478.50" x2="468.94" y2="508.40" stroke="#4a4a4a" stroke-width="1"/>
<rect x="467.44" y="482.20" width="3" height="21.10" fill="#c9191e" stroke="#8e1216" stroke-width="1"/>
<line x1="473.65" y1="454.20" x2="473.65" y2="487.30" stroke="#4a4a4a" stroke-width="1"/>
<rect x="472.15" y="476.60" width="3" height="5.60" fill="#c9191e" stroke="#8e1216" stroke-width="1"/>
<line x1="478.35" y1="448.00" x2="478.35" y2="484.50" stroke="#4a4a4a" stroke-width="1"/>
<rect x="476.85" y="451.60" width="3" height="18.60" fill="#c9191e" stroke="#8e1216" stroke-width="1"/>
<line x1="483.06" y1="441.00" x2="483.06" y2="461.60" stroke="#4a4a4a" stroke-width="1"/>
<rect x="481.56" y="452.20" width="3" height="2.00" fill="#c9191e" stroke="#8e1216" stroke-width="1"/>
<line x1="487.76" y1="459.10" x2="487.76" y2="488.30" stroke="#4a4a4a" stroke-width="1"/>
<rect x="486.26" y="459.60" width="3" height="25.30" fill="#3796dc" stroke="#1c5d94" stroke-width="1"/>
<line x1="492.47" y1="474.20" x2="492.47" y2="507.20" stroke="#4a4a4a" stroke-width="1"/>
<rect x="490.97" y="480.60" width="3" height="12.00" fill="#3796dc" stroke="#1c5d94" stroke-width="1"/>
<line x1="497.18" y1="483.00" x2="497.18" y2="502.40" stroke="#4a4a4a" stroke-width="1"/>
<rect x="495.68" y="491.30" width="3" height="2.00" fill="#3796dc" stroke="#1c5d94" stroke-width="1"/>
<line x1="501.88" y1="482.60" x2="501.88" y2="515.00" stroke="#4a4a4a" stroke-width="1"/>
<rect x="500.38" y="487.40" width="3" height="16.10" fill="#3796dc" stroke="#1c5d94" stroke-width="1"/>
<line x1="506.58" y1="484.00" x2="506.58" y2="504.70" stroke="#4a4a4a" stroke-width="1"/>
<rect x="505.08" y="497.90" width="3" height="2.00" fill="#3796dc" stroke="#1c5d94" stroke-width="1"/>
<line x1="511.29" y1="492.10" x2="511.29" y2="534.60" stroke="#4a4a4a" stroke-width="1"/>
<rect x="509.79" y="494.50" width="3" height="27.60" fill="#3796dc" stroke="#1c5d94" stroke-width="1"/>
<line x1="516.00" y1="504.30" x2="516.00" y2="533.80" stroke="#4a4a4a" stroke-width="1"/>
<rect x="514.50" y="512.10" width="3" height="6.00" fill="#c9191e" stroke="#8e1216" stroke-width="1"/>
<line x1="520.70" y1="490.00" x2="520.70" y2="514.90" stroke="#4a4a4a" stroke-width="1"/>
<rect x="519.20" y="492.60" width="3" height="19.50" fill="#c9191e" stroke="#8e1216" stroke-width="1"/>
<line x1="525.40" y1="485.70" x2="525.40" y2="504.70" stroke="#4a4a4a" stroke-width="1"/>
<rect x="523.90" y="492.45" width="3" height="2.00" fill="#3796dc" stroke="#1c5d94" stroke-width="1"/>
<line x1="530.11" y1="445.00" x2="530.11" y2="497.00" stroke="#4a4a4a" stroke-width="1"/>
<rect x="528.61" y="445.50" width="3" height="45.50" fill="#c9191e" stroke="#8e1216" stroke-width="1"/>
<line x1="534.81" y1="431.30" x2="534.81" y2="459.40" stroke="#4a4a4a" stroke-width="1"/>
<rect x="532.81" y="449.00" width="4" height="2" fill="#43302f"/>
<line x1="539.52" y1="432.00" x2="539.52" y2="460.10" stroke="#4a4a4a" stroke-width="1"/>
<rect x="537.52" y="447.90" width="4" height="2" fill="#43302f"/>
<line x1="544.23" y1="439.00" x2="544.23" y2="459.40" stroke="#4a4a4a" stroke-width="1"/>
<rect x="542.73" y="444.50" width="3" height="5.50" fill="#3796dc" stroke="#1c5d94" stroke-width="1"/>
<line x1="548.93" y1="441.90" x2="548.93" y2="485.40" stroke="#4a4a4a" stroke-width="1"/>
<rect x="547.43" y="449.70" width="3" height="35.20" fill="#3796dc" stroke="#1c5d94" stroke-width="1"/>
<line x1="553.63" y1="463.60" x2="553.63" y2="492.70" stroke="#4a4a4a" stroke-width="1"/>
<rect x="552.13" y="471.90" width="3" height="17.50" fill="#3796dc" stroke="#1c5d94" stroke-width="1"/>
<line x1="558.34" y1="480.90" x2="558.34" y2="501.60" stroke="#4a4a4a" stroke-width="1"/>
<rect x="556.84" y="489.90" width="3" height="4.20" fill="#c9191e" stroke="#8e1216" stroke-width="1"/>
<line x1="563.04" y1="470.70" x2="563.04" y2="502.30" stroke="#4a4a4a" stroke-width="1"/>
<rect x="561.54" y="488.50" width="3" height="8.80" fill="#3796dc" stroke="#1c5d94" stroke-width="1"/>
<line x1="567.75" y1="493.80" x2="567.75" y2="529.00" stroke="#4a4a4a" stroke-width="1"/>
<rect x="566.25" y="494.30" width="3" height="5.80" fill="#3796dc" stroke="#1c5d94" stroke-width="1"/>
<line x1="572.46" y1="489.40" x2="572.46" y2="507.20" stroke="#4a4a4a" stroke-width="1"/>
<rect x="570.96" y="498.60" width="3" height="6.30" fill="#3796dc" stroke="#1c5d94" stroke-width="1"/>
<line x1="577.16" y1="509.10" x2="577.16" y2="542.20" stroke="#4a4a4a" stroke-width="1"/>
<rect x="575.66" y="511.00" width="3" height="29.20" fill="#3796dc" stroke="#1c5d94" stroke-width="1"/>
<line x1="581.87" y1="522.20" x2="581.87" y2="544.70" stroke="#4a4a4a" stroke-width="1"/>
<rect x="580.37" y="529.40" width="3" height="4.50" fill="#c9191e" stroke="#8e1216" stroke-width="1"/>
<line x1="586.57" y1="541.90" x2="586.57" y2="562.50" stroke="#4a4a4a" stroke-width="1"/>
<rect x="584.57" y="550.30" width="4" height="2" fill="#43302f"/>
<line x1="591.27" y1="535.10" x2="591.27" y2="563.50" stroke="#4a4a4a" stroke-width="1"/>
<rect x="589.77" y="544.30" width="3" height="5.50" fill="#c9191e" stroke="#8e1216" stroke-width="1"/>
<line x1="595.98" y1="528.10" x2="595.98" y2="551.30" stroke="#4a4a4a" stroke-width="1"/>
<rect x="594.48" y="537.30" width="3" height="4.60" fill="#c9191e" stroke="#8e1216" stroke-width="1"/>
<line x1="600.68" y1="534.00" x2="600.68" y2="580.10" stroke="#4a4a4a" stroke-width="1"/>
<rect x="599.18" y="535.90" width="3" height="29.90" fill="#3796dc" stroke="#1c5d94" stroke-width="1"/>
<line x1="605.39" y1="542.90" x2="605.39" y2="586.00" stroke="#4a4a4a" stroke-width="1"/>
<rect x="603.89" y="554.60" width="3" height="17.30" fill="#3796dc" stroke="#1c5d94" stroke-width="1"/>
<line x1="610.10" y1="558.30" x2="610.10" y2="573.10" stroke="#4a4a4a" stroke-width="1"/>
<rect x="608.60" y="568.60" width="3" height="4.00" fill="#c9191e" stroke="#8e1216" stroke-width="1"/>
<line x1="614.80" y1="563.10" x2="614.80" y2="584.40" stroke="#4a4a4a" stroke-width="1"/>
<rect x="613.30" y="568.70" width="3" height="15.20" fill="#3796dc" stroke="#1c5d94" stroke-width="1"/>
<line x1="619.50" y1="596.10" x2="619.50" y2="630.20" stroke="#4a4a4a" stroke-width="1"/>
<rect x="618.00" y="599.70" width="3" height="10.30" fill="#3796dc" stroke="#1c5d94" stroke-width="1"/>
<line x1="624.21" y1="576.70" x2="624.21" y2="607.60" stroke="#4a4a4a" stroke-width="1"/>
<rect x="622.71" y="595.60" width="3" height="9.70" fill="#c9191e" stroke="#8e1216" stroke-width="1"/>
<line x1="628.91" y1="580.30" x2="628.91" y2="608.40" stroke="#4a4a4a" stroke-width="1"/>
<rect x="627.41" y="590.50" width="3" height="3.70" fill="#c9191e" stroke="#8e1216" stroke-width="1"/>
<line x1="633.62" y1="566.20" x2="633.62" y2="589.40" stroke="#4a4a4a" stroke-width="1"/>
<rect x="632.12" y="578.70" width="3" height="9.20" fill="#c9191e" stroke="#8e1216" stroke-width="1"/>
<line x1="638.32" y1="570.20" x2="638.32" y2="605.90" stroke="#4a4a4a" stroke-width="1"/>
<rect x="636.82" y="576.90" width="3" height="22.30" fill="#3796dc" stroke="#1c5d94" stroke-width="1"/>
<line x1="643.03" y1="605.30" x2="643.03" y2="628.30" stroke="#4a4a4a" stroke-width="1"/>
<rect x="641.53" y="605.80" width="3" height="17.30" fill="#3796dc" stroke="#1c5d94" stroke-width="1"/>
<line x1="647.74" y1="618.20" x2="647.74" y2="635.40" stroke="#4a4a4a" stroke-width="1"/>
<rect x="646.24" y="618.70" width="3" height="8.60" fill="#c9191e" stroke="#8e1216" stroke-width="1"/>
<line x1="652.44" y1="608.70" x2="652.44" y2="627.80" stroke="#4a4a4a" stroke-width="1"/>
<rect x="650.94" y="617.30" width="3" height="3.90" fill="#c9191e" stroke="#8e1216" stroke-width="1"/>
<line x1="657.14" y1="604.90" x2="657.14" y2="623.10" stroke="#4a4a4a" stroke-width="1"/>
<rect x="655.64" y="610.60" width="3" height="4.30" fill="#3796dc" stroke="#1c5d94" stroke-width="1"/>
<line x1="661.85" y1="596.90" x2="661.85" y2="620.30" stroke="#4a4a4a" stroke-width="1"/>
<rect x="660.35" y="599.30" width="3" height="15.90" fill="#c9191e" stroke="#8e1216" stroke-width="1"/>
<line x1="666.55" y1="580.00" x2="666.55" y2="602.60" stroke="#4a4a4a" stroke-width="1"/>
<rect x="665.05" y="592.50" width="3" height="6.70" fill="#c9191e" stroke="#8e1216" stroke-width="1"/>
<line x1="671.26" y1="580.00" x2="671.26" y2="605.00" stroke="#4a4a4a" stroke-width="1"/>
<rect x="669.76" y="584.30" width="3" height="18.40" fill="#c9191e" stroke="#8e1216" stroke-width="1"/>
<line x1="675.97" y1="554.00" x2="675.97" y2="597.30" stroke="#4a4a4a" stroke-width="1"/>
<rect x="674.47" y="581.50" width="3" height="15.30" fill="#3796dc" stroke="#1c5d94" stroke-width="1"/>
<line x1="680.67" y1="570.20" x2="680.67" y2="603.50" stroke="#4a4a4a" stroke-width="1"/>
<rect x="679.17" y="573.50" width="3" height="17.20" fill="#c9191e" stroke="#8e1216" stroke-width="1"/>
<line x1="685.38" y1="562.20" x2="685.38" y2="579.30" stroke="#4a4a4a" stroke-width="1"/>
<rect x="683.88" y="566.90" width="3" height="5.60" fill="#c9191e" stroke="#8e1216" stroke-width="1"/>
<line x1="690.08" y1="544.20" x2="690.08" y2="564.60" stroke="#4a4a4a" stroke-width="1"/>
<rect x="688.58" y="547.80" width="3" height="13.00" fill="#c9191e" stroke="#8e1216" stroke-width="1"/>
<line x1="694.78" y1="510.70" x2="694.78" y2="550.10" stroke="#4a4a4a" stroke-width="1"/>
<rect x="693.28" y="533.70" width="3" height="13.50" fill="#c9191e" stroke="#8e1216" stroke-width="1"/>
<line x1="699.49" y1="525.20" x2="699.49" y2="566.40" stroke="#4a4a4a" stroke-width="1"/>
<rect x="697.99" y="533.20" width="3" height="18.60" fill="#3796dc" stroke="#1c5d94" stroke-width="1"/>
<line x1="704.19" y1="526.20" x2="704.19" y2="553.20" stroke="#4a4a4a" stroke-width="1"/>
<rect x="702.69" y="532.40" width="3" height="17.50" fill="#c9191e" stroke="#8e1216" stroke-width="1"/>
<line x1="708.90" y1="523.70" x2="708.90" y2="545.40" stroke="#4a4a4a" stroke-width="1"/>
<rect x="707.40" y="528.40" width="3" height="3.90" fill="#3796dc" stroke="#1c5d94" stroke-width="1"/>
<line x1="713.61" y1="505.10" x2="713.61" y2="532.80" stroke="#4a4a4a" stroke-width="1"/>
<rect x="712.11" y="517.40" width="3" height="14.90" fill="#c9191e" stroke="#8e1216" stroke-width="1"/>
<line x1="718.31" y1="506.10" x2="718.31" y2="527.60" stroke="#4a4a4a" stroke-width="1"/>
<rect x="716.31" y="510.30" width="4" height="2" fill="#43302f"/>
<line x1="723.01" y1="504.10" x2="723.01" y2="538.50" stroke="#4a4a4a" stroke-width="1"/>
<rect x="721.51" y="504.60" width="3" height="6.70" fill="#3796dc" stroke="#1c5d94" stroke-width="1"/>
<line x1="727.72" y1="533.30" x2="727.72" y2="594.00" stroke="#4a4a4a" stroke-width="1"/>
<rect x="726.22" y="533.80" width="3" height="31.30" fill="#3796dc" stroke="#1c5d94" stroke-width="1"/>
<line x1="732.42" y1="547.90" x2="732.42" y2="582.70" stroke="#4a4a4a" stroke-width="1"/>
<rect x="730.92" y="556.50" width="3" height="13.80" fill="#c9191e" stroke="#8e1216" stroke-width="1"/>
<line x1="737.13" y1="543.10" x2="737.13" y2="589.80" stroke="#4a4a4a" stroke-width="1"/>
<rect x="735.63" y="556.50" width="3" height="26.90" fill="#3796dc" stroke="#1c5d94" stroke-width="1"/>
<line x1="741.84" y1="576.20" x2="741.84" y2="648.40" stroke="#4a4a4a" stroke-width="1"/>
<rect x="740.34" y="586.90" width="3" height="50.80" fill="#3796dc" stroke="#1c5d94" stroke-width="1"/>
<line x1="770.2" y1="394" x2="770.2" y2="767.7" stroke="#888" stroke-width="1.2"/>
<line x1="0" y1="767.2" x2="770.5" y2="767.2" stroke="#555" stroke-width="1"/>
<line x1="770.5" y1="421.2" x2="773" y2="421.2" stroke="#666" stroke-width="1"/>
<text x="775.6" y="424.3" font-family='"Liberation Sans", sans-serif' font-size="8.6" fill="#444" font-weight="normal" text-anchor="start" >100.50</text>
<line x1="770.5" y1="456.3" x2="773" y2="456.3" stroke="#666" stroke-width="1"/>
<text x="775.6" y="459.4" font-family='"Liberation Sans", sans-serif' font-size="8.6" fill="#444" font-weight="normal" text-anchor="start" >100.00</text>
<line x1="770.5" y1="491.4" x2="773" y2="491.4" stroke="#666" stroke-width="1"/>
<text x="775.6" y="494.6" font-family='"Liberation Sans", sans-serif' font-size="8.6" fill="#444" font-weight="normal" text-anchor="start" >99.500</text>
<line x1="770.5" y1="526.6" x2="773" y2="526.6" stroke="#666" stroke-width="1"/>
<text x="775.6" y="529.7" font-family='"Liberation Sans", sans-serif' font-size="8.6" fill="#444" font-weight="normal" text-anchor="start" >99.000</text>
<line x1="770.5" y1="561.8" x2="773" y2="561.8" stroke="#666" stroke-width="1"/>
<text x="775.6" y="564.9" font-family='"Liberation Sans", sans-serif' font-size="8.6" fill="#444" font-weight="normal" text-anchor="start" >98.500</text>
<line x1="770.5" y1="596.9" x2="773" y2="596.9" stroke="#666" stroke-width="1"/>
<text x="775.6" y="600.0" font-family='"Liberation Sans", sans-serif' font-size="8.6" fill="#444" font-weight="normal" text-anchor="start" >98.000</text>
<line x1="770.5" y1="632.0" x2="773" y2="632.0" stroke="#666" stroke-width="1"/>
<text x="775.6" y="635.1" font-family='"Liberation Sans", sans-serif' font-size="8.6" fill="#444" font-weight="normal" text-anchor="start" >97.500</text>
<line x1="770.5" y1="667.2" x2="773" y2="667.2" stroke="#666" stroke-width="1"/>
<text x="775.6" y="670.3" font-family='"Liberation Sans", sans-serif' font-size="8.6" fill="#444" font-weight="normal" text-anchor="start" >97.000</text>
<line x1="770.5" y1="702.4" x2="773" y2="702.4" stroke="#666" stroke-width="1"/>
<text x="775.6" y="705.5" font-family='"Liberation Sans", sans-serif' font-size="8.6" fill="#444" font-weight="normal" text-anchor="start" >96.500</text>
<line x1="770.5" y1="737.5" x2="773" y2="737.5" stroke="#666" stroke-width="1"/>
<text x="775.6" y="740.6" font-family='"Liberation Sans", sans-serif' font-size="8.6" fill="#444" font-weight="normal" text-anchor="start" >96.000</text>
<rect x="770" y="632.5" width="31" height="11.8" fill="#3e6fd9"/>
<text x="775.3" y="641.9" font-family='"Liberation Sans", sans-serif' font-size="9" fill="#fff" font-weight="bold" text-anchor="start" >97.404</text>
<rect x="770" y="660.8" width="30.7" height="11.9" fill="#4a87c6"/>
<text x="775.3" y="670.3" font-family='"Liberation Sans", sans-serif' font-size="9" fill="#fff" font-weight="bold" text-anchor="start" >97.000</text>
<line x1="55" y1="767" x2="55" y2="769.7" stroke="#555"/>
<text x="48.5" y="777.8" font-family='"Liberation Sans", sans-serif' font-size="8.3" fill="#6a6a6a" font-weight="normal" text-anchor="start" >7</text>
<path d="M53.83,774.32 L58.56,774.32 M56.2,774.32 L56.2,775.58 M60.14,771.48 L60.14,776.06 M58.56,773.69 L60.14,773.69 M54.78,776.37 L60.14,776.37 L60.14,777.67 L54.78,777.67 L54.78,778.97 L60.14,778.97 M54.7,772.51 a1.5,1.03 0 1,0 3,0 a1.5,1.03 0 1,0 -3,0" fill="none" stroke="#6a6a6a" stroke-width="0.85" stroke-linecap="butt" stroke-linejoin="miter"/>
<line x1="163.3" y1="767" x2="163.3" y2="769.7" stroke="#555"/>
<text x="156.8" y="777.8" font-family='"Liberation Sans", sans-serif' font-size="8.3" fill="#6a6a6a" font-weight="normal" text-anchor="start" >8</text>
<path d="M162.13,774.32 L166.86,774.32 M164.5,774.32 L164.5,775.58 M168.44,771.48 L168.44,776.06 M166.86,773.69 L168.44,773.69 M163.08,776.37 L168.44,776.37 L168.44,777.67 L163.08,777.67 L163.08,778.97 L168.44,778.97 M163,772.51 a1.5,1.03 0 1,0 3,0 a1.5,1.03 0 1,0 -3,0" fill="none" stroke="#6a6a6a" stroke-width="0.85" stroke-linecap="butt" stroke-linejoin="miter"/>
<line x1="262.2" y1="767" x2="262.2" y2="769.7" stroke="#555"/>
<text x="255.7" y="777.8" font-family='"Liberation Sans", sans-serif' font-size="8.3" fill="#6a6a6a" font-weight="normal" text-anchor="start" >9</text>
<path d="M261.03,774.32 L265.76,774.32 M263.4,774.32 L263.4,775.58 M267.34,771.48 L267.34,776.06 M265.76,773.69 L267.34,773.69 M261.98,776.37 L267.34,776.37 L267.34,777.67 L261.98,777.67 L261.98,778.97 L267.34,778.97 M261.9,772.51 a1.5,1.03 0 1,0 3,0 a1.5,1.03 0 1,0 -3,0" fill="none" stroke="#6a6a6a" stroke-width="0.85" stroke-linecap="butt" stroke-linejoin="miter"/>
<line x1="365.9" y1="767" x2="365.9" y2="769.7" stroke="#555"/>
<text x="357.1" y="777.8" font-family='"Liberation Sans", sans-serif' font-size="8.3" fill="#6a6a6a" font-weight="normal" text-anchor="start" >10</text>
<path d="M367.04,774.32 L371.77,774.32 M369.4,774.32 L369.4,775.58 M373.35,771.48 L373.35,776.06 M371.77,773.69 L373.35,773.69 M367.98,776.37 L373.35,776.37 L373.35,777.67 L367.98,777.67 L367.98,778.97 L373.35,778.97 M367.91,772.51 a1.5,1.03 0 1,0 3,0 a1.5,1.03 0 1,0 -3,0" fill="none" stroke="#6a6a6a" stroke-width="0.85" stroke-linecap="butt" stroke-linejoin="miter"/>
<line x1="568.6" y1="767" x2="568.6" y2="769.7" stroke="#555"/>
<text x="559.8" y="777.8" font-family='"Liberation Sans", sans-serif' font-size="8.3" fill="#6a6a6a" font-weight="normal" text-anchor="start" >12</text>
<path d="M569.74,774.32 L574.47,774.32 M572.1,774.32 L572.1,775.58 M576.05,771.48 L576.05,776.06 M574.47,773.69 L576.05,773.69 M570.68,776.37 L576.05,776.37 L576.05,777.67 L570.68,777.67 L570.68,778.97 L576.05,778.97 M570.61,772.51 a1.5,1.03 0 1,0 3,0 a1.5,1.03 0 1,0 -3,0" fill="none" stroke="#6a6a6a" stroke-width="0.85" stroke-linecap="butt" stroke-linejoin="miter"/>
<line x1="672.2" y1="767" x2="672.2" y2="769.7" stroke="#555"/>
<text x="672.2" y="777.8" font-family='"Liberation Sans", sans-serif' font-size="8.6" fill="#5a5a5a" font-weight="bold" text-anchor="middle" >2026</text>
<line x1="733.5" y1="767" x2="733.5" y2="769.7" stroke="#555"/>
<text x="733.5" y="777.8" font-family='"Liberation Sans", sans-serif' font-size="8.6" fill="#5a5a5a" font-weight="bold" text-anchor="middle" >21</text>
<rect x="434.9" y="767.7" width="50" height="10.3" fill="#4b86c1"/>
<svg x="434.9" y="767.7" width="50" height="10.3" overflow="hidden">
<text x="25" y="10.4" font-family='"Liberation Sans", sans-serif' font-size="9.2" fill="#fff" font-weight="bold" text-anchor="middle"  textLength="43.6" lengthAdjust="spacingAndGlyphs">2025-10-29</text>
</svg>
<rect x="0" y="778.2" width="808" height="4" fill="#fff"/>
</svg>
</body></html>
